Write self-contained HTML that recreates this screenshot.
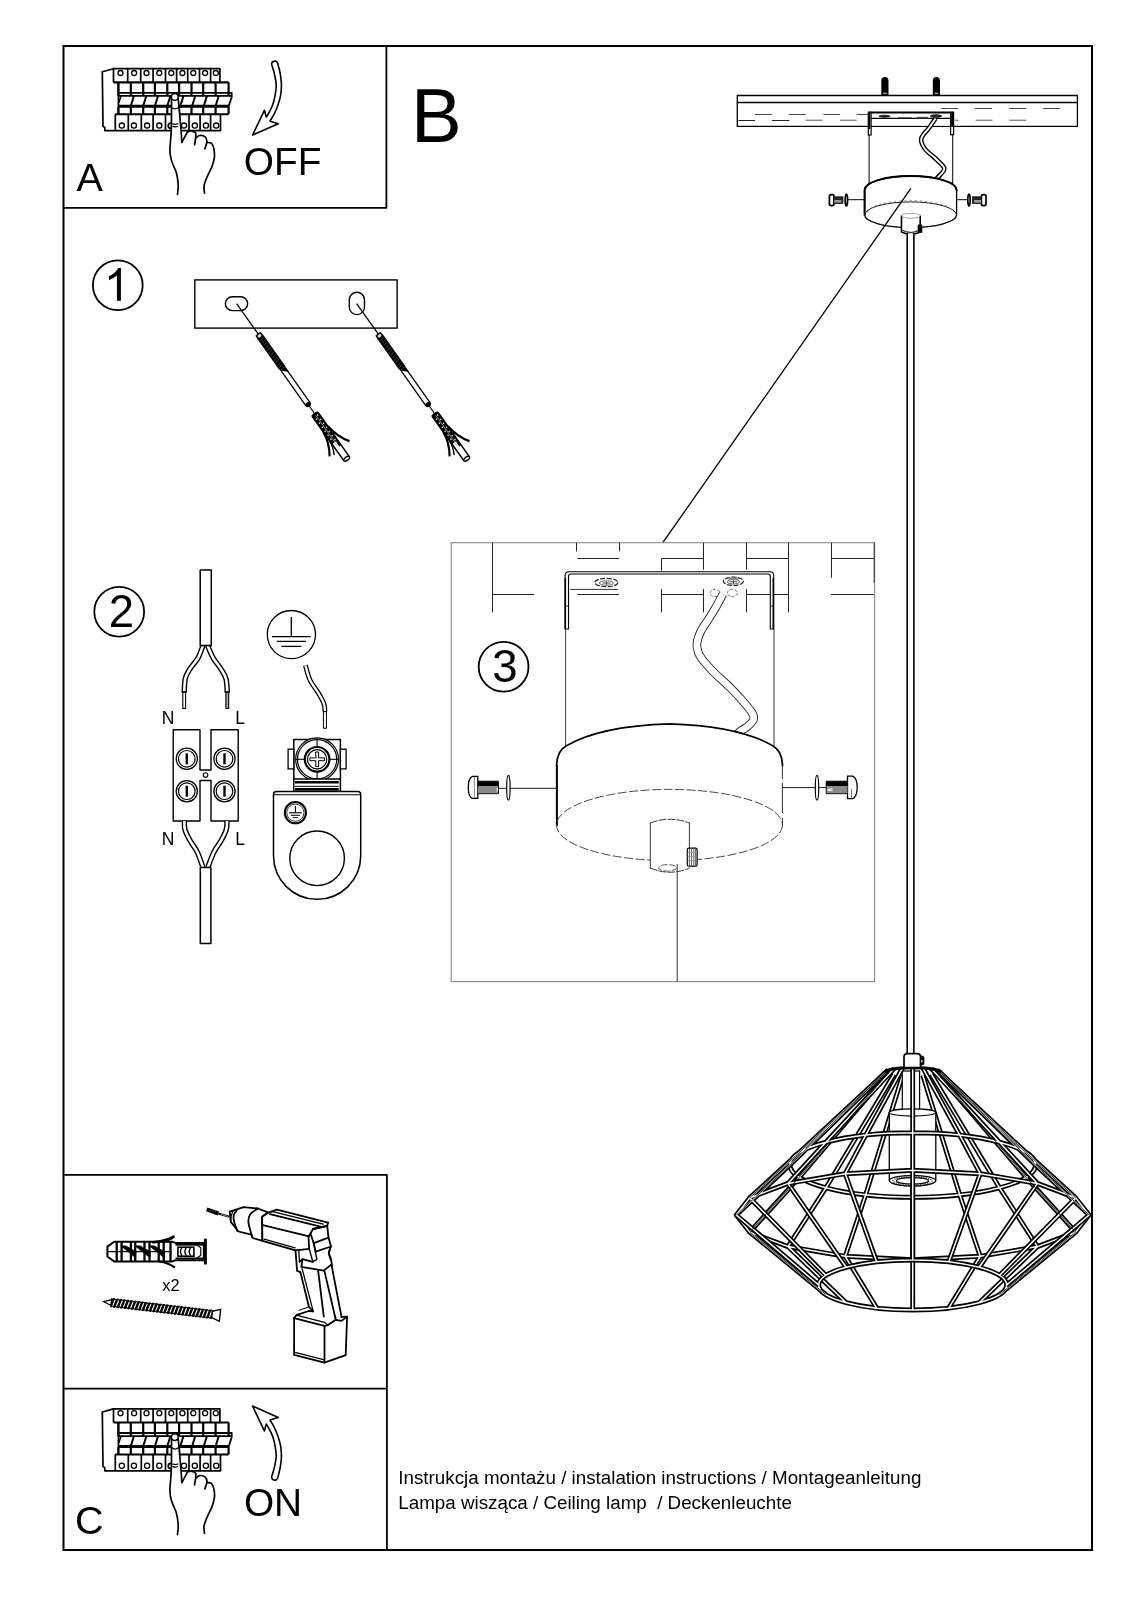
<!DOCTYPE html>
<html><head><meta charset="utf-8"><title>Instrukcja montazu</title>
<style>
html,body{margin:0;padding:0;background:#fff;}
body{width:1131px;height:1600px;overflow:hidden;font-family:"Liberation Sans",sans-serif;}
svg{display:block;font-family:"Liberation Sans",sans-serif;will-change:transform;}
svg text{fill:#000;}
</style></head><body>
<svg width="1131" height="1600" viewBox="0 0 1131 1600">
<rect x="0" y="0" width="1131" height="1600" fill="#fff"/>
<!-- frame -->
<rect x="63.5" y="46" width="1028.5" height="1504" fill="none" stroke="#000" stroke-width="2"/>
<path d="M63.5,207.8 H386.4 V46" fill="none" stroke="#000" stroke-width="1.8" stroke-linejoin="round" stroke-linecap="round" />
<path d="M63.5,1174.8 H386.9 V1550" fill="none" stroke="#000" stroke-width="1.8" stroke-linejoin="round" stroke-linecap="round" />
<line x1="63.5" y1="1388.7" x2="386.9" y2="1388.7" stroke="#000" stroke-width="1.8" />
<text x="76.6" y="191.0" font-size="39.5" text-anchor="start" >A</text>
<text x="243.8" y="174.8" font-size="38.8" text-anchor="start" >OFF</text>
<text x="411.0" y="142.0" font-size="76" text-anchor="start" >B</text>
<text x="75.0" y="1534.0" font-size="39.5" text-anchor="start" >C</text>
<text x="243.9" y="1516.0" font-size="38.8" text-anchor="start" >ON</text>
<text x="398.3" y="1484.0" font-size="18.8" text-anchor="start" >Instrukcja montażu / instalation instructions / Montageanleitung</text>
<text x="398.3" y="1508.6" font-size="18.8" text-anchor="start" >Lampa wisząca / Ceiling lamp&#160; / Deckenleuchte</text>
<circle cx="117.8" cy="285.2" r="24.9" fill="none" stroke="#000" stroke-width="1.8"/>
<path transform="translate(103.95,300.8) scale(0.02222,-0.02222)" d="M763 0H583V1147Q518 1085 412.5 1023Q307 961 223 930V1104Q374 1175 487 1276Q600 1377 647 1472H763Z" fill="#000"/>
<circle cx="119.2" cy="611.8" r="24.9" fill="none" stroke="#000" stroke-width="1.8"/>
<text x="121.4" y="627.1" font-size="45.5" text-anchor="middle" >2</text>
<circle cx="503.6" cy="666.8" r="24.9" fill="none" stroke="#000" stroke-width="1.8"/>
<text x="505.0" y="682.4" font-size="45.5" text-anchor="middle" >3</text>
<g>
<path d="M113.5,68.7 L102.3,71.8 L103.0,126.2 L104.8,127.5 L104.8,130.6 L220.5,130.6" fill="none" stroke="#000" stroke-width="1.7" stroke-linejoin="round" stroke-linecap="round" />
<path d="M113.5,68.7 L219.9,68.7 L219.9,82.3" fill="none" stroke="#000" stroke-width="1.7" stroke-linejoin="round" stroke-linecap="round" />
<line x1="113.5" y1="82.3" x2="228.6" y2="82.3" stroke="#000" stroke-width="2.2" />
<line x1="113.5" y1="68.7" x2="113.5" y2="82.3" stroke="#000" stroke-width="1.7" />
<line x1="127.7" y1="68.7" x2="127.7" y2="82.3" stroke="#000" stroke-width="1.7" />
<line x1="140.7" y1="68.7" x2="140.7" y2="82.3" stroke="#000" stroke-width="1.7" />
<line x1="153.1" y1="68.7" x2="153.1" y2="82.3" stroke="#000" stroke-width="1.7" />
<line x1="165.5" y1="68.7" x2="165.5" y2="82.3" stroke="#000" stroke-width="1.7" />
<line x1="176.6" y1="68.7" x2="176.6" y2="82.3" stroke="#000" stroke-width="1.7" />
<line x1="187.7" y1="68.7" x2="187.7" y2="82.3" stroke="#000" stroke-width="1.7" />
<line x1="199.5" y1="68.7" x2="199.5" y2="82.3" stroke="#000" stroke-width="1.7" />
<line x1="210.6" y1="68.7" x2="210.6" y2="82.3" stroke="#000" stroke-width="1.7" />
<circle cx="120.5" cy="73.0" r="2.5" fill="none" stroke="#000" stroke-width="1.3"/>
<circle cx="134.1" cy="73.0" r="2.5" fill="none" stroke="#000" stroke-width="1.3"/>
<circle cx="146.5" cy="73.0" r="2.5" fill="none" stroke="#000" stroke-width="1.3"/>
<circle cx="159.3" cy="73.0" r="2.5" fill="none" stroke="#000" stroke-width="1.3"/>
<circle cx="171.3" cy="73.0" r="2.5" fill="none" stroke="#000" stroke-width="1.3"/>
<circle cx="182.4" cy="73.0" r="2.5" fill="none" stroke="#000" stroke-width="1.3"/>
<circle cx="193.3" cy="73.0" r="2.5" fill="none" stroke="#000" stroke-width="1.3"/>
<circle cx="205.1" cy="73.0" r="2.5" fill="none" stroke="#000" stroke-width="1.3"/>
<circle cx="215.8" cy="73.0" r="2.5" fill="none" stroke="#000" stroke-width="1.3"/>
<line x1="118.4" y1="82.3" x2="118.4" y2="95.9" stroke="#000" stroke-width="2.2" />
<line x1="130.8" y1="82.3" x2="130.8" y2="95.9" stroke="#000" stroke-width="2.2" />
<line x1="143.2" y1="82.3" x2="143.2" y2="95.9" stroke="#000" stroke-width="2.2" />
<line x1="154.9" y1="82.3" x2="154.9" y2="95.9" stroke="#000" stroke-width="2.2" />
<line x1="167.3" y1="82.3" x2="167.3" y2="95.9" stroke="#000" stroke-width="2.2" />
<line x1="179.1" y1="82.3" x2="179.1" y2="95.9" stroke="#000" stroke-width="2.2" />
<line x1="191.5" y1="82.3" x2="191.5" y2="95.9" stroke="#000" stroke-width="2.2" />
<line x1="203.2" y1="82.3" x2="203.2" y2="95.9" stroke="#000" stroke-width="2.2" />
<line x1="215.6" y1="82.3" x2="215.6" y2="95.9" stroke="#000" stroke-width="2.2" />
<line x1="228.6" y1="82.3" x2="228.6" y2="95.9" stroke="#000" stroke-width="2.2" />
<path d="M118.4,92.8 L231.7,92.8 L231.7,97.1 L228.6,106.4" fill="none" stroke="#000" stroke-width="1.8" stroke-linejoin="round" stroke-linecap="round" />
<line x1="118.4" y1="95.9" x2="231.1" y2="95.9" stroke="#000" stroke-width="1.6" />
<line x1="118.4" y1="106.3" x2="229.0" y2="106.3" stroke="#000" stroke-width="3" />
<line x1="118.4" y1="82.3" x2="118.4" y2="114.5" stroke="#000" stroke-width="1.7" />
<line x1="133.9" y1="96.1" x2="130.8" y2="106.0" stroke="#000" stroke-width="2.0" />
<line x1="146.3" y1="96.1" x2="143.2" y2="106.0" stroke="#000" stroke-width="2.0" />
<line x1="158.0" y1="96.1" x2="154.9" y2="106.0" stroke="#000" stroke-width="2.0" />
<line x1="170.4" y1="96.1" x2="167.3" y2="106.0" stroke="#000" stroke-width="2.0" />
<line x1="183.4" y1="96.1" x2="180.3" y2="106.0" stroke="#000" stroke-width="2.0" />
<line x1="195.2" y1="96.1" x2="192.1" y2="106.0" stroke="#000" stroke-width="2.0" />
<line x1="206.9" y1="96.1" x2="203.8" y2="106.0" stroke="#000" stroke-width="2.0" />
<line x1="218.7" y1="96.1" x2="215.6" y2="106.0" stroke="#000" stroke-width="2.0" />
<line x1="120.9" y1="96.1" x2="118.8" y2="102.7" stroke="#000" stroke-width="1.6" />
<line x1="118.4" y1="107.0" x2="118.4" y2="114.2" stroke="#000" stroke-width="2.2" />
<line x1="130.8" y1="107.0" x2="130.8" y2="114.2" stroke="#000" stroke-width="2.2" />
<line x1="143.2" y1="107.0" x2="143.2" y2="114.2" stroke="#000" stroke-width="2.2" />
<line x1="154.9" y1="107.0" x2="154.9" y2="114.2" stroke="#000" stroke-width="2.2" />
<line x1="167.3" y1="107.0" x2="167.3" y2="114.2" stroke="#000" stroke-width="2.2" />
<line x1="179.1" y1="107.0" x2="179.1" y2="114.2" stroke="#000" stroke-width="2.2" />
<line x1="191.5" y1="107.0" x2="191.5" y2="114.2" stroke="#000" stroke-width="2.2" />
<line x1="203.2" y1="107.0" x2="203.2" y2="114.2" stroke="#000" stroke-width="2.2" />
<line x1="215.6" y1="107.0" x2="215.6" y2="114.2" stroke="#000" stroke-width="2.2" />
<line x1="228.6" y1="107.0" x2="228.6" y2="114.2" stroke="#000" stroke-width="2.2" />
<line x1="115.3" y1="114.2" x2="228.6" y2="114.2" stroke="#000" stroke-width="2.0" />
<line x1="115.3" y1="114.2" x2="115.3" y2="130.6" stroke="#000" stroke-width="1.7" />
<line x1="128.3" y1="114.2" x2="128.3" y2="130.6" stroke="#000" stroke-width="1.7" />
<line x1="141.3" y1="114.2" x2="141.3" y2="130.6" stroke="#000" stroke-width="1.7" />
<line x1="153.1" y1="114.2" x2="153.1" y2="130.6" stroke="#000" stroke-width="1.7" />
<line x1="165.5" y1="114.2" x2="165.5" y2="130.6" stroke="#000" stroke-width="1.7" />
<line x1="189.0" y1="114.2" x2="189.0" y2="130.6" stroke="#000" stroke-width="1.7" />
<line x1="200.1" y1="114.2" x2="200.1" y2="130.6" stroke="#000" stroke-width="1.7" />
<line x1="210.6" y1="114.2" x2="210.6" y2="130.6" stroke="#000" stroke-width="1.7" />
<line x1="220.5" y1="114.2" x2="220.5" y2="130.6" stroke="#000" stroke-width="1.7" />
<circle cx="121.8" cy="125.6" r="2.6" fill="none" stroke="#000" stroke-width="1.3"/>
<circle cx="133.9" cy="125.6" r="2.6" fill="none" stroke="#000" stroke-width="1.3"/>
<circle cx="147.1" cy="125.6" r="2.6" fill="none" stroke="#000" stroke-width="1.3"/>
<circle cx="159.3" cy="125.6" r="2.6" fill="none" stroke="#000" stroke-width="1.3"/>
<circle cx="184.0" cy="125.6" r="2.6" fill="none" stroke="#000" stroke-width="1.3"/>
<circle cx="194.8" cy="125.6" r="2.6" fill="none" stroke="#000" stroke-width="1.3"/>
<circle cx="205.9" cy="125.6" r="2.6" fill="none" stroke="#000" stroke-width="1.3"/>
<circle cx="216.2" cy="125.6" r="2.6" fill="none" stroke="#000" stroke-width="1.3"/>
<path d="M171.5,98.5 L171.3,129.6 L169.9,150.3 L171.5,160.6 L176.3,172.5 L178.2,184.5 L177.5,194.4 L204.5,193.2 L204.1,185.3 L207.3,176.5 L212.1,166.2 L214.5,156.6 L213.7,147.9 L211.3,143.1 L206.9,142.3 L204.9,136.7 L199.3,135.5 L196.2,133.5 L191.4,131.2 L187.4,131.9 L181.8,142.3 L181.0,129.6 L178.2,98.5 Z" fill="#fff" stroke="none" stroke-width="0" stroke-linejoin="round" stroke-linecap="round" />
<path d="M171.5,98.5 C171.5,103.7 171.6,120.9 171.3,129.6 C171.1,138.2 169.9,145.1 169.9,150.3 C169.9,155.4 170.4,156.9 171.5,160.6 C172.5,164.3 175.1,168.6 176.3,172.5 C177.4,176.5 178.0,180.8 178.2,184.5 C178.4,188.1 177.6,192.8 177.5,194.4" fill="none" stroke="#000" stroke-width="1.7" stroke-linejoin="round" stroke-linecap="round" />
<path d="M178.2,98.5 C178.7,103.7 180.4,122.3 181.0,129.6 C181.6,136.9 181.7,140.2 181.8,142.3" fill="none" stroke="#000" stroke-width="1.7" stroke-linejoin="round" stroke-linecap="round" />
<path d="M181.8,142.3 C182.8,140.6 186.5,133.7 187.4,131.9" fill="none" stroke="#000" stroke-width="1.7" stroke-linejoin="round" stroke-linecap="round" />
<path d="M187.4,131.9 C188.1,131.8 190.0,130.7 191.4,131.0 C192.8,131.3 195.2,131.3 195.8,133.5 C196.3,135.8 194.8,142.8 194.6,144.7" fill="none" stroke="#000" stroke-width="1.7" stroke-linejoin="round" stroke-linecap="round" />
<path d="M196.6,137.5 C197.1,137.2 198.3,135.5 199.7,135.4 C201.1,135.2 203.7,135.7 204.9,136.7 C206.1,137.7 206.9,139.5 206.9,141.5 C206.9,143.5 205.2,147.5 204.9,148.7" fill="none" stroke="#000" stroke-width="1.7" stroke-linejoin="round" stroke-linecap="round" />
<path d="M206.9,142.5 C207.6,142.6 210.1,142.2 211.3,143.1 C212.4,144.0 213.1,145.6 213.7,147.9 C214.2,150.1 214.7,153.6 214.5,156.6 C214.2,159.7 213.3,162.8 212.1,166.2 C210.9,169.5 208.6,173.3 207.3,176.5 C206.0,179.7 204.6,182.5 204.1,185.3 C203.6,188.0 204.4,191.9 204.5,193.2" fill="none" stroke="#000" stroke-width="1.7" stroke-linejoin="round" stroke-linecap="round" />
<circle cx="174.8" cy="96.9" r="3.4" fill="#fff" stroke="#000" stroke-width="1.5"/>
<path d="M171.9,107.7 C172.4,107.9 174.0,108.9 175.1,108.9 C176.1,108.9 177.7,107.9 178.2,107.7" fill="none" stroke="#000" stroke-width="1.3" stroke-linejoin="round" stroke-linecap="round" />
<path d="M172.7,123.8 C173.1,123.9 174.4,124.3 175.3,124.3 C176.2,124.3 177.4,123.9 177.9,123.8" fill="none" stroke="#000" stroke-width="1.2" stroke-linejoin="round" stroke-linecap="round" />
<path d="M173.1,126.4 C173.4,126.5 174.6,126.9 175.3,126.9 C176.0,126.9 177.1,126.5 177.5,126.4" fill="none" stroke="#000" stroke-width="1.2" stroke-linejoin="round" stroke-linecap="round" />
<path d="M170.8,123.2 A2.6,2.6 0 0,0 170.8,128.4" fill="none" stroke="#000" stroke-width="1.7" stroke-linejoin="round" stroke-linecap="round" />
</g>
<g transform="translate(0,1340.2)">
<path d="M113.5,68.7 L102.3,71.8 L103.0,126.2 L104.8,127.5 L104.8,130.6 L220.5,130.6" fill="none" stroke="#000" stroke-width="1.7" stroke-linejoin="round" stroke-linecap="round" />
<path d="M113.5,68.7 L219.9,68.7 L219.9,82.3" fill="none" stroke="#000" stroke-width="1.7" stroke-linejoin="round" stroke-linecap="round" />
<line x1="113.5" y1="82.3" x2="228.6" y2="82.3" stroke="#000" stroke-width="2.2" />
<line x1="113.5" y1="68.7" x2="113.5" y2="82.3" stroke="#000" stroke-width="1.7" />
<line x1="127.7" y1="68.7" x2="127.7" y2="82.3" stroke="#000" stroke-width="1.7" />
<line x1="140.7" y1="68.7" x2="140.7" y2="82.3" stroke="#000" stroke-width="1.7" />
<line x1="153.1" y1="68.7" x2="153.1" y2="82.3" stroke="#000" stroke-width="1.7" />
<line x1="165.5" y1="68.7" x2="165.5" y2="82.3" stroke="#000" stroke-width="1.7" />
<line x1="176.6" y1="68.7" x2="176.6" y2="82.3" stroke="#000" stroke-width="1.7" />
<line x1="187.7" y1="68.7" x2="187.7" y2="82.3" stroke="#000" stroke-width="1.7" />
<line x1="199.5" y1="68.7" x2="199.5" y2="82.3" stroke="#000" stroke-width="1.7" />
<line x1="210.6" y1="68.7" x2="210.6" y2="82.3" stroke="#000" stroke-width="1.7" />
<circle cx="120.5" cy="73.0" r="2.5" fill="none" stroke="#000" stroke-width="1.3"/>
<circle cx="134.1" cy="73.0" r="2.5" fill="none" stroke="#000" stroke-width="1.3"/>
<circle cx="146.5" cy="73.0" r="2.5" fill="none" stroke="#000" stroke-width="1.3"/>
<circle cx="159.3" cy="73.0" r="2.5" fill="none" stroke="#000" stroke-width="1.3"/>
<circle cx="171.3" cy="73.0" r="2.5" fill="none" stroke="#000" stroke-width="1.3"/>
<circle cx="182.4" cy="73.0" r="2.5" fill="none" stroke="#000" stroke-width="1.3"/>
<circle cx="193.3" cy="73.0" r="2.5" fill="none" stroke="#000" stroke-width="1.3"/>
<circle cx="205.1" cy="73.0" r="2.5" fill="none" stroke="#000" stroke-width="1.3"/>
<circle cx="215.8" cy="73.0" r="2.5" fill="none" stroke="#000" stroke-width="1.3"/>
<line x1="118.4" y1="82.3" x2="118.4" y2="95.9" stroke="#000" stroke-width="2.2" />
<line x1="130.8" y1="82.3" x2="130.8" y2="95.9" stroke="#000" stroke-width="2.2" />
<line x1="143.2" y1="82.3" x2="143.2" y2="95.9" stroke="#000" stroke-width="2.2" />
<line x1="154.9" y1="82.3" x2="154.9" y2="95.9" stroke="#000" stroke-width="2.2" />
<line x1="167.3" y1="82.3" x2="167.3" y2="95.9" stroke="#000" stroke-width="2.2" />
<line x1="179.1" y1="82.3" x2="179.1" y2="95.9" stroke="#000" stroke-width="2.2" />
<line x1="191.5" y1="82.3" x2="191.5" y2="95.9" stroke="#000" stroke-width="2.2" />
<line x1="203.2" y1="82.3" x2="203.2" y2="95.9" stroke="#000" stroke-width="2.2" />
<line x1="215.6" y1="82.3" x2="215.6" y2="95.9" stroke="#000" stroke-width="2.2" />
<line x1="228.6" y1="82.3" x2="228.6" y2="95.9" stroke="#000" stroke-width="2.2" />
<path d="M118.4,92.8 L231.7,92.8 L231.7,97.1 L228.6,106.4" fill="none" stroke="#000" stroke-width="1.8" stroke-linejoin="round" stroke-linecap="round" />
<line x1="118.4" y1="95.9" x2="231.1" y2="95.9" stroke="#000" stroke-width="1.6" />
<line x1="118.4" y1="106.3" x2="229.0" y2="106.3" stroke="#000" stroke-width="3" />
<line x1="118.4" y1="82.3" x2="118.4" y2="114.5" stroke="#000" stroke-width="1.7" />
<line x1="133.9" y1="96.1" x2="130.8" y2="106.0" stroke="#000" stroke-width="2.0" />
<line x1="146.3" y1="96.1" x2="143.2" y2="106.0" stroke="#000" stroke-width="2.0" />
<line x1="158.0" y1="96.1" x2="154.9" y2="106.0" stroke="#000" stroke-width="2.0" />
<line x1="170.4" y1="96.1" x2="167.3" y2="106.0" stroke="#000" stroke-width="2.0" />
<line x1="183.4" y1="96.1" x2="180.3" y2="106.0" stroke="#000" stroke-width="2.0" />
<line x1="195.2" y1="96.1" x2="192.1" y2="106.0" stroke="#000" stroke-width="2.0" />
<line x1="206.9" y1="96.1" x2="203.8" y2="106.0" stroke="#000" stroke-width="2.0" />
<line x1="218.7" y1="96.1" x2="215.6" y2="106.0" stroke="#000" stroke-width="2.0" />
<line x1="120.9" y1="96.1" x2="118.8" y2="102.7" stroke="#000" stroke-width="1.6" />
<line x1="118.4" y1="107.0" x2="118.4" y2="114.2" stroke="#000" stroke-width="2.2" />
<line x1="130.8" y1="107.0" x2="130.8" y2="114.2" stroke="#000" stroke-width="2.2" />
<line x1="143.2" y1="107.0" x2="143.2" y2="114.2" stroke="#000" stroke-width="2.2" />
<line x1="154.9" y1="107.0" x2="154.9" y2="114.2" stroke="#000" stroke-width="2.2" />
<line x1="167.3" y1="107.0" x2="167.3" y2="114.2" stroke="#000" stroke-width="2.2" />
<line x1="179.1" y1="107.0" x2="179.1" y2="114.2" stroke="#000" stroke-width="2.2" />
<line x1="191.5" y1="107.0" x2="191.5" y2="114.2" stroke="#000" stroke-width="2.2" />
<line x1="203.2" y1="107.0" x2="203.2" y2="114.2" stroke="#000" stroke-width="2.2" />
<line x1="215.6" y1="107.0" x2="215.6" y2="114.2" stroke="#000" stroke-width="2.2" />
<line x1="228.6" y1="107.0" x2="228.6" y2="114.2" stroke="#000" stroke-width="2.2" />
<line x1="115.3" y1="114.2" x2="228.6" y2="114.2" stroke="#000" stroke-width="2.0" />
<line x1="115.3" y1="114.2" x2="115.3" y2="130.6" stroke="#000" stroke-width="1.7" />
<line x1="128.3" y1="114.2" x2="128.3" y2="130.6" stroke="#000" stroke-width="1.7" />
<line x1="141.3" y1="114.2" x2="141.3" y2="130.6" stroke="#000" stroke-width="1.7" />
<line x1="153.1" y1="114.2" x2="153.1" y2="130.6" stroke="#000" stroke-width="1.7" />
<line x1="165.5" y1="114.2" x2="165.5" y2="130.6" stroke="#000" stroke-width="1.7" />
<line x1="189.0" y1="114.2" x2="189.0" y2="130.6" stroke="#000" stroke-width="1.7" />
<line x1="200.1" y1="114.2" x2="200.1" y2="130.6" stroke="#000" stroke-width="1.7" />
<line x1="210.6" y1="114.2" x2="210.6" y2="130.6" stroke="#000" stroke-width="1.7" />
<line x1="220.5" y1="114.2" x2="220.5" y2="130.6" stroke="#000" stroke-width="1.7" />
<circle cx="121.8" cy="125.6" r="2.6" fill="none" stroke="#000" stroke-width="1.3"/>
<circle cx="133.9" cy="125.6" r="2.6" fill="none" stroke="#000" stroke-width="1.3"/>
<circle cx="147.1" cy="125.6" r="2.6" fill="none" stroke="#000" stroke-width="1.3"/>
<circle cx="159.3" cy="125.6" r="2.6" fill="none" stroke="#000" stroke-width="1.3"/>
<circle cx="184.0" cy="125.6" r="2.6" fill="none" stroke="#000" stroke-width="1.3"/>
<circle cx="194.8" cy="125.6" r="2.6" fill="none" stroke="#000" stroke-width="1.3"/>
<circle cx="205.9" cy="125.6" r="2.6" fill="none" stroke="#000" stroke-width="1.3"/>
<circle cx="216.2" cy="125.6" r="2.6" fill="none" stroke="#000" stroke-width="1.3"/>
<path d="M171.5,98.5 L171.3,129.6 L169.9,150.3 L171.5,160.6 L176.3,172.5 L178.2,184.5 L177.5,194.4 L204.5,193.2 L204.1,185.3 L207.3,176.5 L212.1,166.2 L214.5,156.6 L213.7,147.9 L211.3,143.1 L206.9,142.3 L204.9,136.7 L199.3,135.5 L196.2,133.5 L191.4,131.2 L187.4,131.9 L181.8,142.3 L181.0,129.6 L178.2,98.5 Z" fill="#fff" stroke="none" stroke-width="0" stroke-linejoin="round" stroke-linecap="round" />
<path d="M171.5,98.5 C171.5,103.7 171.6,120.9 171.3,129.6 C171.1,138.2 169.9,145.1 169.9,150.3 C169.9,155.4 170.4,156.9 171.5,160.6 C172.5,164.3 175.1,168.6 176.3,172.5 C177.4,176.5 178.0,180.8 178.2,184.5 C178.4,188.1 177.6,192.8 177.5,194.4" fill="none" stroke="#000" stroke-width="1.7" stroke-linejoin="round" stroke-linecap="round" />
<path d="M178.2,98.5 C178.7,103.7 180.4,122.3 181.0,129.6 C181.6,136.9 181.7,140.2 181.8,142.3" fill="none" stroke="#000" stroke-width="1.7" stroke-linejoin="round" stroke-linecap="round" />
<path d="M181.8,142.3 C182.8,140.6 186.5,133.7 187.4,131.9" fill="none" stroke="#000" stroke-width="1.7" stroke-linejoin="round" stroke-linecap="round" />
<path d="M187.4,131.9 C188.1,131.8 190.0,130.7 191.4,131.0 C192.8,131.3 195.2,131.3 195.8,133.5 C196.3,135.8 194.8,142.8 194.6,144.7" fill="none" stroke="#000" stroke-width="1.7" stroke-linejoin="round" stroke-linecap="round" />
<path d="M196.6,137.5 C197.1,137.2 198.3,135.5 199.7,135.4 C201.1,135.2 203.7,135.7 204.9,136.7 C206.1,137.7 206.9,139.5 206.9,141.5 C206.9,143.5 205.2,147.5 204.9,148.7" fill="none" stroke="#000" stroke-width="1.7" stroke-linejoin="round" stroke-linecap="round" />
<path d="M206.9,142.5 C207.6,142.6 210.1,142.2 211.3,143.1 C212.4,144.0 213.1,145.6 213.7,147.9 C214.2,150.1 214.7,153.6 214.5,156.6 C214.2,159.7 213.3,162.8 212.1,166.2 C210.9,169.5 208.6,173.3 207.3,176.5 C206.0,179.7 204.6,182.5 204.1,185.3 C203.6,188.0 204.4,191.9 204.5,193.2" fill="none" stroke="#000" stroke-width="1.7" stroke-linejoin="round" stroke-linecap="round" />
<circle cx="174.8" cy="96.9" r="3.4" fill="#fff" stroke="#000" stroke-width="1.5"/>
<path d="M171.9,107.7 C172.4,107.9 174.0,108.9 175.1,108.9 C176.1,108.9 177.7,107.9 178.2,107.7" fill="none" stroke="#000" stroke-width="1.3" stroke-linejoin="round" stroke-linecap="round" />
<path d="M172.7,123.8 C173.1,123.9 174.4,124.3 175.3,124.3 C176.2,124.3 177.4,123.9 177.9,123.8" fill="none" stroke="#000" stroke-width="1.2" stroke-linejoin="round" stroke-linecap="round" />
<path d="M173.1,126.4 C173.4,126.5 174.6,126.9 175.3,126.9 C176.0,126.9 177.1,126.5 177.5,126.4" fill="none" stroke="#000" stroke-width="1.2" stroke-linejoin="round" stroke-linecap="round" />
<path d="M170.8,123.2 A2.6,2.6 0 0,0 170.8,128.4" fill="none" stroke="#000" stroke-width="1.7" stroke-linejoin="round" stroke-linecap="round" />
</g>
<path d="M271.8,64.9 C272.3,66.5 273.9,71.5 274.6,74.8 C275.3,78.1 276.1,81.4 276.2,84.7 C276.3,88.0 275.8,91.3 275.2,94.6 C274.7,97.9 273.7,101.7 272.8,104.5 C271.8,107.3 270.7,109.2 269.7,111.3 C268.6,113.4 266.8,116.2 266.3,117.2 L264.4,110.3 L252.6,135.1 L278.3,123.7 L270.0,121.2L270.0,121.2 C270.6,120.0 272.7,116.9 274.0,114.4 C275.3,111.8 276.6,108.8 277.7,105.7 C278.8,102.6 279.9,99.3 280.5,95.8 C281.1,92.3 281.5,88.4 281.4,84.7 C281.4,80.9 280.8,77.1 280.2,73.5 C279.6,70.0 278.1,65.0 277.7,63.3 A2.9,2.9 0 0,0 271.8,64.9 Z" fill="#fff" stroke="#000" stroke-width="1.6" stroke-linejoin="round" stroke-linecap="round" />
<path d="M271.8,1476.3 C272.3,1474.7 273.9,1469.7 274.6,1466.4 C275.3,1463.1 276.1,1459.8 276.2,1456.5 C276.3,1453.2 275.8,1449.9 275.2,1446.6 C274.7,1443.3 273.7,1439.5 272.8,1436.7 C271.8,1433.9 270.7,1432.0 269.7,1429.9 C268.6,1427.8 266.8,1425.0 266.3,1424.0 L264.4,1430.9 L252.6,1406.1 L278.3,1417.5 L270.0,1420.0L270.0,1420.0 C270.6,1421.2 272.7,1424.3 274.0,1426.8 C275.3,1429.4 276.6,1432.4 277.7,1435.5 C278.8,1438.6 279.9,1441.9 280.5,1445.4 C281.1,1448.9 281.5,1452.8 281.4,1456.5 C281.4,1460.3 280.8,1464.1 280.2,1467.7 C279.6,1471.2 278.1,1476.2 277.7,1477.9 A2.9,2.9 0 0,1 271.8,1476.3 Z" fill="#fff" stroke="#000" stroke-width="1.6" stroke-linejoin="round" stroke-linecap="round" />
<!-- step1 -->
<rect x="194.8" y="279.9" width="202.3" height="48.2" fill="none" stroke="#000" stroke-width="1.4"/>
<rect x="225.4" y="296.7" width="22.2" height="13.9" rx="6.9" fill="none" stroke="#000" stroke-width="1.4"/>
<rect x="349.3" y="292.3" width="15.2" height="22.3" rx="7.6" fill="none" stroke="#000" stroke-width="1.4"/>
<g transform="translate(258.0,333.7) rotate(54.67)">
<line x1="-37.0" y1="0.0" x2="0.0" y2="0.0" stroke="#000" stroke-width="1.3" />
<rect x="0" y="-3.2" width="43.5" height="6.4" rx="2" fill="#000" stroke="#000" stroke-width="0.8"/>
<ellipse cx="2.6" cy="0" rx="1.5" ry="2" fill="#ddd"/>
<line x1="6" y1="-2.4" x2="7.2" y2="2.4" stroke="#777" stroke-width="0.5"/>
<line x1="9" y1="-2.4" x2="10.2" y2="2.4" stroke="#777" stroke-width="0.5"/>
<line x1="12" y1="-2.4" x2="13.2" y2="2.4" stroke="#777" stroke-width="0.5"/>
<line x1="15" y1="-2.4" x2="16.2" y2="2.4" stroke="#777" stroke-width="0.5"/>
<line x1="18" y1="-2.4" x2="19.2" y2="2.4" stroke="#777" stroke-width="0.5"/>
<line x1="21" y1="-2.4" x2="22.2" y2="2.4" stroke="#777" stroke-width="0.5"/>
<line x1="24" y1="-2.4" x2="25.2" y2="2.4" stroke="#777" stroke-width="0.5"/>
<line x1="27" y1="-2.4" x2="28.2" y2="2.4" stroke="#777" stroke-width="0.5"/>
<line x1="30" y1="-2.4" x2="31.2" y2="2.4" stroke="#777" stroke-width="0.5"/>
<line x1="33" y1="-2.4" x2="34.2" y2="2.4" stroke="#777" stroke-width="0.5"/>
<line x1="36" y1="-2.4" x2="37.2" y2="2.4" stroke="#777" stroke-width="0.5"/>
<line x1="39" y1="-2.4" x2="40.2" y2="2.4" stroke="#777" stroke-width="0.5"/>
<line x1="42" y1="-2.4" x2="43.2" y2="2.4" stroke="#777" stroke-width="0.5"/>
<path d="M43.5,-2.6 H86 Q88.5,-2.6 88.5,0 Q88.5,2.6 86,2.6 H43.5" fill="#fff" stroke="#000" stroke-width="1.3"/>
<path d="M43,-3 L49,-3 L43,3 Z" fill="#000"/>
<rect x="84.5" y="-2.6" width="4" height="5.2" rx="1.5" fill="#000"/>
<line x1="88.5" y1="0.0" x2="97.0" y2="0.0" stroke="#000" stroke-width="1.0" />
<path d="M99,-3.6 Q96.5,0 99,3.6 L153,3.4 L153,-3.4 Z" fill="#fff" stroke="#000" stroke-width="1.5"/>
<path d="M97.5,-3.6 H133 V3.6 H97.5 Z" fill="#000"/>
<circle cx="101" cy="-1.6" r="0.8" fill="#ddd"/><circle cx="103.5" cy="1.6" r="0.8" fill="#ddd"/>
<circle cx="106" cy="-1.6" r="0.8" fill="#ddd"/><circle cx="108.5" cy="1.6" r="0.8" fill="#ddd"/>
<circle cx="111" cy="-1.6" r="0.8" fill="#ddd"/><circle cx="113.5" cy="1.6" r="0.8" fill="#ddd"/>
<circle cx="116" cy="-1.6" r="0.8" fill="#ddd"/><circle cx="118.5" cy="1.6" r="0.8" fill="#ddd"/>
<circle cx="121" cy="-1.6" r="0.8" fill="#ddd"/><circle cx="123.5" cy="1.6" r="0.8" fill="#ddd"/>
<circle cx="126" cy="-1.6" r="0.8" fill="#ddd"/><circle cx="128.5" cy="1.6" r="0.8" fill="#ddd"/>
<circle cx="131" cy="-1.6" r="0.8" fill="#ddd"/><circle cx="133.5" cy="1.6" r="0.8" fill="#ddd"/>
<line x1="100.0" y1="0.0" x2="138.0" y2="0.0" stroke="#bbb" stroke-width="0.7" />
<path d="M116,-3.6 Q130,-5 140.5,-12.5" fill="none" stroke="#000" stroke-width="2.2"/>
<path d="M118,3.6 Q130,4.5 141.5,12.5" fill="none" stroke="#000" stroke-width="2.2"/>
<path d="M128,3.4 Q136,4 143,8" fill="none" stroke="#000" stroke-width="1.4"/>
<rect x="133" y="-3.4" width="6" height="2.2" fill="#000"/>
<ellipse cx="153.3" cy="0" rx="1.7" ry="3.4" fill="#fff" stroke="#000" stroke-width="1.3"/>
</g>
<g transform="translate(378.0,333.7) rotate(54.67)">
<line x1="-37.0" y1="0.0" x2="0.0" y2="0.0" stroke="#000" stroke-width="1.3" />
<rect x="0" y="-3.2" width="43.5" height="6.4" rx="2" fill="#000" stroke="#000" stroke-width="0.8"/>
<ellipse cx="2.6" cy="0" rx="1.5" ry="2" fill="#ddd"/>
<line x1="6" y1="-2.4" x2="7.2" y2="2.4" stroke="#777" stroke-width="0.5"/>
<line x1="9" y1="-2.4" x2="10.2" y2="2.4" stroke="#777" stroke-width="0.5"/>
<line x1="12" y1="-2.4" x2="13.2" y2="2.4" stroke="#777" stroke-width="0.5"/>
<line x1="15" y1="-2.4" x2="16.2" y2="2.4" stroke="#777" stroke-width="0.5"/>
<line x1="18" y1="-2.4" x2="19.2" y2="2.4" stroke="#777" stroke-width="0.5"/>
<line x1="21" y1="-2.4" x2="22.2" y2="2.4" stroke="#777" stroke-width="0.5"/>
<line x1="24" y1="-2.4" x2="25.2" y2="2.4" stroke="#777" stroke-width="0.5"/>
<line x1="27" y1="-2.4" x2="28.2" y2="2.4" stroke="#777" stroke-width="0.5"/>
<line x1="30" y1="-2.4" x2="31.2" y2="2.4" stroke="#777" stroke-width="0.5"/>
<line x1="33" y1="-2.4" x2="34.2" y2="2.4" stroke="#777" stroke-width="0.5"/>
<line x1="36" y1="-2.4" x2="37.2" y2="2.4" stroke="#777" stroke-width="0.5"/>
<line x1="39" y1="-2.4" x2="40.2" y2="2.4" stroke="#777" stroke-width="0.5"/>
<line x1="42" y1="-2.4" x2="43.2" y2="2.4" stroke="#777" stroke-width="0.5"/>
<path d="M43.5,-2.6 H86 Q88.5,-2.6 88.5,0 Q88.5,2.6 86,2.6 H43.5" fill="#fff" stroke="#000" stroke-width="1.3"/>
<path d="M43,-3 L49,-3 L43,3 Z" fill="#000"/>
<rect x="84.5" y="-2.6" width="4" height="5.2" rx="1.5" fill="#000"/>
<line x1="88.5" y1="0.0" x2="97.0" y2="0.0" stroke="#000" stroke-width="1.0" />
<path d="M99,-3.6 Q96.5,0 99,3.6 L153,3.4 L153,-3.4 Z" fill="#fff" stroke="#000" stroke-width="1.5"/>
<path d="M97.5,-3.6 H133 V3.6 H97.5 Z" fill="#000"/>
<circle cx="101" cy="-1.6" r="0.8" fill="#ddd"/><circle cx="103.5" cy="1.6" r="0.8" fill="#ddd"/>
<circle cx="106" cy="-1.6" r="0.8" fill="#ddd"/><circle cx="108.5" cy="1.6" r="0.8" fill="#ddd"/>
<circle cx="111" cy="-1.6" r="0.8" fill="#ddd"/><circle cx="113.5" cy="1.6" r="0.8" fill="#ddd"/>
<circle cx="116" cy="-1.6" r="0.8" fill="#ddd"/><circle cx="118.5" cy="1.6" r="0.8" fill="#ddd"/>
<circle cx="121" cy="-1.6" r="0.8" fill="#ddd"/><circle cx="123.5" cy="1.6" r="0.8" fill="#ddd"/>
<circle cx="126" cy="-1.6" r="0.8" fill="#ddd"/><circle cx="128.5" cy="1.6" r="0.8" fill="#ddd"/>
<circle cx="131" cy="-1.6" r="0.8" fill="#ddd"/><circle cx="133.5" cy="1.6" r="0.8" fill="#ddd"/>
<line x1="100.0" y1="0.0" x2="138.0" y2="0.0" stroke="#bbb" stroke-width="0.7" />
<path d="M116,-3.6 Q130,-5 140.5,-12.5" fill="none" stroke="#000" stroke-width="2.2"/>
<path d="M118,3.6 Q130,4.5 141.5,12.5" fill="none" stroke="#000" stroke-width="2.2"/>
<path d="M128,3.4 Q136,4 143,8" fill="none" stroke="#000" stroke-width="1.4"/>
<rect x="133" y="-3.4" width="6" height="2.2" fill="#000"/>
<ellipse cx="153.3" cy="0" rx="1.7" ry="3.4" fill="#fff" stroke="#000" stroke-width="1.3"/>
</g>
<!-- step2 -->
<path d="M200.2,645.6 V569.9 H211.3 V645.6" fill="none" stroke="#000" stroke-width="1.5" stroke-linejoin="round" stroke-linecap="round" />
<line x1="200.2" y1="645.6" x2="211.3" y2="645.6" stroke="#000" stroke-width="1.5" />
<path d="M203.0,645.6 C202.2,647.6 200.3,653.9 198.1,657.8 C195.9,661.7 191.9,665.6 189.8,669.1 C187.7,672.6 186.2,674.7 185.3,678.5 C184.4,682.3 184.4,689.8 184.2,692.0" fill="none" stroke="#000" stroke-width="5.4" stroke-linecap="butt"/>
<path d="M203.0,645.6 C202.2,647.6 200.3,653.9 198.1,657.8 C195.9,661.7 191.9,665.6 189.8,669.1 C187.7,672.6 186.2,674.7 185.3,678.5 C184.4,682.3 184.4,689.8 184.2,692.0" fill="none" stroke="#fff" stroke-width="2.6" stroke-linecap="butt"/>
<path d="M207.6,645.6 C208.5,647.6 210.9,653.9 213.1,657.8 C215.3,661.7 218.9,665.6 221.0,669.1 C223.1,672.6 224.8,674.7 225.9,678.5 C227.0,682.3 227.1,689.8 227.3,692.0" fill="none" stroke="#000" stroke-width="5.4" stroke-linecap="butt"/>
<path d="M207.6,645.6 C208.5,647.6 210.9,653.9 213.1,657.8 C215.3,661.7 218.9,665.6 221.0,669.1 C223.1,672.6 224.8,674.7 225.9,678.5 C227.0,682.3 227.1,689.8 227.3,692.0" fill="none" stroke="#fff" stroke-width="2.6" stroke-linecap="butt"/>
<rect x="182.8" y="692" width="2.8" height="16.4" fill="#fff" stroke="#000" stroke-width="1.1"/>
<line x1="181.5" y1="692.0" x2="186.9" y2="692.0" stroke="#000" stroke-width="1.3" />
<rect x="225.9" y="692" width="2.8" height="16.4" fill="#aaa" stroke="#000" stroke-width="1.1"/>
<line x1="224.6" y1="692.0" x2="230.0" y2="692.0" stroke="#000" stroke-width="1.3" />
<line x1="200.2" y1="645.6" x2="211.3" y2="645.6" stroke="#000" stroke-width="1.5" />
<text x="161.8" y="724.0" font-size="17.5" text-anchor="start" >N</text>
<text x="235.2" y="724.0" font-size="17.5" text-anchor="start" >L</text>
<text x="161.8" y="844.5" font-size="17.5" text-anchor="start" >N</text>
<text x="235.2" y="844.5" font-size="17.5" text-anchor="start" >L</text>
<path d="M173.2,729.8 H200 V770 H211 V729.8 H238.2 V821 H211 V780.5 H200 V821 H173.2 Z" fill="none" stroke="#000" stroke-width="1.4" stroke-linejoin="round" stroke-linecap="round" />
<circle cx="186.8" cy="758.8" r="10.6" fill="none" stroke="#000" stroke-width="1.3"/>
<circle cx="186.8" cy="758.8" r="8.3" fill="none" stroke="#000" stroke-width="1.2"/>
<line x1="186.8" y1="753.3" x2="186.8" y2="764.3" stroke="#000" stroke-width="2.4" />
<circle cx="186.8" cy="791.2" r="10.6" fill="none" stroke="#000" stroke-width="1.3"/>
<circle cx="186.8" cy="791.2" r="8.3" fill="none" stroke="#000" stroke-width="1.2"/>
<line x1="186.8" y1="785.7" x2="186.8" y2="796.7" stroke="#000" stroke-width="2.4" />
<circle cx="224.5" cy="758.8" r="10.6" fill="none" stroke="#000" stroke-width="1.3"/>
<circle cx="224.5" cy="758.8" r="8.3" fill="none" stroke="#000" stroke-width="1.2"/>
<line x1="224.5" y1="753.3" x2="224.5" y2="764.3" stroke="#000" stroke-width="2.4" />
<circle cx="224.5" cy="791.2" r="10.6" fill="none" stroke="#000" stroke-width="1.3"/>
<circle cx="224.5" cy="791.2" r="8.3" fill="none" stroke="#000" stroke-width="1.2"/>
<line x1="224.5" y1="785.7" x2="224.5" y2="796.7" stroke="#000" stroke-width="2.4" />
<circle cx="205.5" cy="775.0" r="2.3" fill="none" stroke="#000" stroke-width="1.1"/>
<path d="M184.4,821.0 C184.5,822.4 184.0,826.3 184.9,829.5 C185.8,832.7 187.7,836.3 189.8,840.1 C191.9,843.9 195.1,847.5 197.3,852.1 C199.5,856.7 202.1,864.9 203.0,867.5" fill="none" stroke="#000" stroke-width="5.4" stroke-linecap="butt"/>
<path d="M184.4,821.0 C184.5,822.4 184.0,826.3 184.9,829.5 C185.8,832.7 187.7,836.3 189.8,840.1 C191.9,843.9 195.1,847.5 197.3,852.1 C199.5,856.7 202.1,864.9 203.0,867.5" fill="none" stroke="#fff" stroke-width="2.6" stroke-linecap="butt"/>
<path d="M227.0,821.0 C226.9,822.4 227.2,826.3 226.3,829.5 C225.4,832.7 223.5,836.3 221.4,840.1 C219.3,843.9 216.2,847.5 213.9,852.1 C211.6,856.7 208.8,864.9 207.8,867.5" fill="none" stroke="#000" stroke-width="5.4" stroke-linecap="butt"/>
<path d="M227.0,821.0 C226.9,822.4 227.2,826.3 226.3,829.5 C225.4,832.7 223.5,836.3 221.4,840.1 C219.3,843.9 216.2,847.5 213.9,852.1 C211.6,856.7 208.8,864.9 207.8,867.5" fill="none" stroke="#fff" stroke-width="2.6" stroke-linecap="butt"/>
<path d="M200.3,867.5 H210.9 V943.4 H200.3 Z" fill="#fff" stroke="#000" stroke-width="1.5" stroke-linejoin="round" stroke-linecap="round" />
<circle cx="291.4" cy="634.6" r="24.1" fill="none" stroke="#000" stroke-width="1.3"/>
<line x1="291.3" y1="617.0" x2="291.3" y2="636.6" stroke="#000" stroke-width="1.3" />
<line x1="272.0" y1="636.6" x2="310.7" y2="636.6" stroke="#000" stroke-width="1.3" />
<line x1="276.8" y1="641.4" x2="306.0" y2="641.4" stroke="#000" stroke-width="1.3" />
<line x1="281.3" y1="646.4" x2="301.4" y2="646.4" stroke="#000" stroke-width="1.3" />
<path d="M305.4,665.3 C306.2,667.8 307.7,675.2 310.0,680.0 C312.3,684.8 316.7,690.0 319.0,694.0 C321.3,698.0 323.0,701.1 324.0,704.0 C325.0,706.9 324.8,710.3 324.9,711.6" fill="none" stroke="#000" stroke-width="4.9" stroke-linecap="butt"/>
<path d="M305.4,665.3 C306.2,667.8 307.7,675.2 310.0,680.0 C312.3,684.8 316.7,690.0 319.0,694.0 C321.3,698.0 323.0,701.1 324.0,704.0 C325.0,706.9 324.8,710.3 324.9,711.6" fill="none" stroke="#fff" stroke-width="2.3" stroke-linecap="butt"/>
<rect x="323.4" y="711.6" width="3" height="16.6" fill="#fff" stroke="#000" stroke-width="1"/>
<path d="M293.8,739.6 H340.4 V791.4 H293.8 Z" fill="#fff" stroke="#000" stroke-width="1.5" stroke-linejoin="round" stroke-linecap="round" />
<rect x="288.1" y="749.2" width="5.7" height="19.7" fill="#fff" stroke="#000" stroke-width="1.3"/>
<rect x="340.4" y="749.2" width="5.7" height="19.7" fill="#fff" stroke="#000" stroke-width="1.3"/>
<circle cx="317.1" cy="759.3" r="21.4" fill="#fff" stroke="#000" stroke-width="1.2"/>
<circle cx="317.1" cy="759.3" r="19.6" fill="none" stroke="#000" stroke-width="1.2"/>
<circle cx="317.1" cy="759.3" r="12.3" fill="none" stroke="#000" stroke-width="2.2"/>
<circle cx="317.1" cy="759.3" r="9.6" fill="none" stroke="#000" stroke-width="1.2"/>
<line x1="317.1" y1="737.9" x2="317.1" y2="747.0" stroke="#000" stroke-width="1.1" />
<line x1="317.1" y1="771.6" x2="317.1" y2="780.7" stroke="#000" stroke-width="1.1" />
<line x1="295.8" y1="759.3" x2="304.8" y2="759.3" stroke="#000" stroke-width="1.1" />
<line x1="329.4" y1="759.3" x2="338.5" y2="759.3" stroke="#000" stroke-width="1.1" />
<path d="M315.8,752.0 h2.8 v5.9 h5.9 v2.8 h-5.9 v5.9 h-2.8 v-5.9 h-5.9 v-2.8 h5.9 Z" fill="none" stroke="#000" stroke-width="1.0" stroke-linejoin="round" stroke-linecap="round" />
<rect x="294.9" y="779" width="43.8" height="12.4" fill="#fff" stroke="none"/>
<line x1="293.8" y1="779.0" x2="340.4" y2="779.0" stroke="#000" stroke-width="1.3" />
<line x1="294.9" y1="782.2" x2="338.7" y2="782.2" stroke="#000" stroke-width="2.6" />
<line x1="294.9" y1="786.3" x2="338.7" y2="786.3" stroke="#000" stroke-width="1.0" />
<line x1="294.9" y1="789.4" x2="338.7" y2="789.4" stroke="#000" stroke-width="2.6" />
<path d="M276.5,791.4 H357.7 Q360.7,791.4 360.7,794.4 V855.8 A43.6,43.6 0 0,1 273.5,855.8 V794.4 Q273.5,791.4 276.5,791.4 Z" fill="#fff" stroke="#000" stroke-width="1.5" stroke-linejoin="round" stroke-linecap="round" />
<line x1="274.0" y1="794.7" x2="360.2" y2="794.7" stroke="#000" stroke-width="1.1" />
<circle cx="317.1" cy="858.3" r="27.3" fill="none" stroke="#000" stroke-width="1.4"/>
<circle cx="295.4" cy="812.7" r="10.6" fill="none" stroke="#000" stroke-width="2.0"/>
<circle cx="295.4" cy="812.7" r="8.6" fill="none" stroke="#000" stroke-width="0.8"/>
<line x1="295.4" y1="806.0" x2="295.4" y2="812.6" stroke="#000" stroke-width="1.1" />
<line x1="289.0" y1="812.8" x2="301.8" y2="812.8" stroke="#000" stroke-width="1.1" />
<line x1="290.8" y1="815.3" x2="300.0" y2="815.3" stroke="#000" stroke-width="1.0" />
<line x1="292.6" y1="817.6" x2="298.2" y2="817.6" stroke="#000" stroke-width="0.9" />
<!-- B ceiling -->
<path d="M881.3,95 V81 Q881.3,77 884.9,77 Q888.5,77 888.5,81 V95 Z" fill="#000"/>
<rect x="883.1" y="92.6" width="3.6" height="1.6" fill="#999"/>
<path d="M932.8,95 V81 Q932.8,77 936.4,77 Q940.0,77 940.0,81 V95 Z" fill="#000"/>
<rect x="934.6" y="92.6" width="3.6" height="1.6" fill="#999"/>
<line x1="736.8" y1="95.5" x2="1077.9" y2="95.5" stroke="#000" stroke-width="1.7" />
<line x1="736.8" y1="102.5" x2="1077.9" y2="102.5" stroke="#000" stroke-width="1.3" />
<line x1="736.8" y1="126.4" x2="1077.9" y2="126.4" stroke="#000" stroke-width="1.4" />
<line x1="737.3" y1="95.5" x2="737.3" y2="126.2" stroke="#000" stroke-width="1.3" />
<line x1="1077.4" y1="95.5" x2="1077.4" y2="126.2" stroke="#000" stroke-width="1.3" />
<line x1="941.0" y1="108.5" x2="958.3" y2="108.5" stroke="#333" stroke-width="0.9" />
<line x1="974.6" y1="108.5" x2="992.0" y2="108.5" stroke="#333" stroke-width="0.9" />
<line x1="1008.9" y1="108.5" x2="1026.2" y2="108.5" stroke="#333" stroke-width="0.9" />
<line x1="1042.9" y1="108.5" x2="1060.1" y2="108.5" stroke="#333" stroke-width="0.9" />
<line x1="755.0" y1="114.5" x2="772.0" y2="114.5" stroke="#333" stroke-width="0.9" />
<line x1="788.9" y1="114.5" x2="805.9" y2="114.5" stroke="#333" stroke-width="0.9" />
<line x1="823.3" y1="114.5" x2="839.9" y2="114.5" stroke="#333" stroke-width="0.9" />
<line x1="856.8" y1="114.5" x2="867.9" y2="114.5" stroke="#333" stroke-width="0.9" />
<line x1="738.4" y1="120.5" x2="755.0" y2="120.5" stroke="#222" stroke-width="1.0" />
<line x1="772.0" y1="120.5" x2="789.4" y2="120.5" stroke="#222" stroke-width="1.0" />
<line x1="805.6" y1="120.3" x2="822.6" y2="120.3" stroke="#888" stroke-width="1.4" />
<line x1="839.9" y1="120.3" x2="856.8" y2="120.3" stroke="#888" stroke-width="1.4" />
<line x1="954.8" y1="120.3" x2="958.3" y2="120.3" stroke="#888" stroke-width="1.4" />
<line x1="975.6" y1="120.3" x2="992.5" y2="120.3" stroke="#888" stroke-width="1.4" />
<line x1="1009.2" y1="120.3" x2="1026.2" y2="120.3" stroke="#888" stroke-width="1.4" />
<rect x="869" y="112.4" width="83.8" height="13.2" fill="#fff" stroke="none"/>
<line x1="868.2" y1="112.4" x2="953.6" y2="112.4" stroke="#000" stroke-width="2" />
<line x1="871.2" y1="118.4" x2="950.6" y2="118.4" stroke="#000" stroke-width="1.2" />
<rect x="868.3" y="112.4" width="2.8" height="22.6" fill="#fff" stroke="#000" stroke-width="1.2"/>
<rect x="950.6" y="112.4" width="3" height="22.3" fill="#fff" stroke="#000" stroke-width="1.2"/>
<line x1="869.2" y1="112.4" x2="869.2" y2="129.0" stroke="#000" stroke-width="2.2" />
<line x1="952.4" y1="112.4" x2="952.4" y2="127.0" stroke="#000" stroke-width="2.6" />
<ellipse cx="884.5" cy="116.3" rx="6" ry="1.5" fill="#222"/>
<ellipse cx="936" cy="116" rx="6" ry="1.8" fill="#222"/>
<line x1="898.0" y1="117.6" x2="912.0" y2="117.6" stroke="#666" stroke-width="1.2" />
<line x1="917.0" y1="117.6" x2="928.0" y2="117.6" stroke="#555" stroke-width="1.6" />
<line x1="869.1" y1="135.0" x2="869.1" y2="186.0" stroke="#000" stroke-width="1.0" />
<line x1="952.7" y1="134.7" x2="952.7" y2="186.0" stroke="#000" stroke-width="1.0" />
<path d="M935.5,118.5 C934.4,120.1 931.4,124.7 929.0,128.0 C926.6,131.3 922.0,135.0 921.3,138.5 C920.6,142.0 922.5,145.6 925.0,149.0 C927.5,152.4 932.8,155.8 936.0,159.0 C939.2,162.2 943.4,165.5 944.2,168.0 C945.0,170.5 942.5,172.0 941.0,174.0 C939.5,176.0 936.0,179.0 935.0,180.0" fill="none" stroke="#000" stroke-width="4.6" stroke-linecap="butt"/>
<path d="M935.5,118.5 C934.4,120.1 931.4,124.7 929.0,128.0 C926.6,131.3 922.0,135.0 921.3,138.5 C920.6,142.0 922.5,145.6 925.0,149.0 C927.5,152.4 932.8,155.8 936.0,159.0 C939.2,162.2 943.4,165.5 944.2,168.0 C945.0,170.5 942.5,172.0 941.0,174.0 C939.5,176.0 936.0,179.0 935.0,180.0" fill="none" stroke="#fff" stroke-width="1.9" stroke-linecap="butt"/>
<path d="M864.6,190 A46,14 0 0,1 956.6,190 V214.8 A46,12.9 0 0,1 864.6,214.8 Z" fill="#fff" stroke="#000" stroke-width="1.3" stroke-linejoin="round" stroke-linecap="round" />
<path d="M864.6,214.8 V190 A46,14 0 0,1 956.6,190" fill="none" stroke="#000" stroke-width="2.0" stroke-linejoin="round" stroke-linecap="round" />
<path d="M864.6,214.8 A46,12.9 0 0,1 956.6,214.8" fill="none" stroke="#222" stroke-width="1.0" stroke-linejoin="round" stroke-linecap="round" />
<path d="M867,212 A44,13.4 0 0,1 954,212" fill="none" stroke="#555" stroke-width="0.9" stroke-linejoin="round" stroke-linecap="round" stroke-dasharray="0.9 4.2"/>
<path d="M901.5,216 V232 Q910.8,236.5 920.2,232 V216" fill="#fff" stroke="#000" stroke-width="1.6" stroke-linejoin="round" stroke-linecap="round" />
<ellipse cx="910.8" cy="215.8" rx="9.3" ry="2.4" fill="#fff" stroke="#888" stroke-width="0.8"/>
<rect x="917.7" y="224.4" width="4.6" height="8.6" rx="1" fill="#000"/>
<path d="M903,230.5 Q910.8,234.5 918.6,230.5" fill="none" stroke="#000" stroke-width="1.0" stroke-linejoin="round" stroke-linecap="round" />
<rect x="906.4" y="233.4" width="8.4" height="820.6" fill="#fff" stroke="none"/>
<line x1="907.2" y1="232.8" x2="907.2" y2="1054.0" stroke="#000" stroke-width="1.6" />
<line x1="913.9" y1="232.8" x2="913.9" y2="1054.0" stroke="#000" stroke-width="1.6" />
<rect x="829.4" y="194.6" width="4.6" height="11" rx="1.8" fill="#fff" stroke="#000" stroke-width="1.7"/>
<rect x="833.4" y="196.3" width="10" height="7.6" fill="#222"/>
<rect x="834.4" y="200" width="7" height="2.6" fill="#999"/>
<ellipse cx="846.4" cy="200" rx="1.2" ry="6" fill="#fff" stroke="#000" stroke-width="1.7"/>
<rect x="981.4" y="194.6" width="4.6" height="11" rx="1.8" fill="#fff" stroke="#000" stroke-width="1.7"/>
<rect x="972.0" y="196.3" width="10" height="7.6" fill="#222"/>
<rect x="974.0" y="200" width="7" height="2.6" fill="#999"/>
<ellipse cx="969.0" cy="200" rx="1.2" ry="6" fill="#fff" stroke="#000" stroke-width="1.7"/>
<line x1="848.0" y1="199.7" x2="864.6" y2="199.7" stroke="#000" stroke-width="1.0" />
<line x1="956.6" y1="199.7" x2="967.0" y2="199.7" stroke="#000" stroke-width="1.0" />
<line x1="910.9" y1="188.4" x2="662.8" y2="542.7" stroke="#000" stroke-width="1.3" />
<!-- step3 -->
<rect x="451.2" y="542.7" width="423.4" height="438.9" fill="none" stroke="#8a8a8a" stroke-width="1.1"/>
<line x1="492.5" y1="542.6" x2="492.5" y2="612.4" stroke="#222" stroke-width="1.0" />
<line x1="492.5" y1="594.5" x2="534.0" y2="594.5" stroke="#222" stroke-width="1.0" />
<line x1="576.5" y1="542.6" x2="576.5" y2="551.4" stroke="#222" stroke-width="1.0" />
<line x1="619.5" y1="542.6" x2="619.5" y2="551.4" stroke="#222" stroke-width="1.0" />
<line x1="577.3" y1="558.5" x2="619.0" y2="558.5" stroke="#222" stroke-width="1.0" />
<line x1="577.3" y1="594.5" x2="619.0" y2="594.5" stroke="#222" stroke-width="1.0" />
<line x1="661.5" y1="558.5" x2="661.5" y2="570.7" stroke="#222" stroke-width="1.0" />
<line x1="661.5" y1="589.0" x2="661.5" y2="612.4" stroke="#222" stroke-width="1.0" />
<line x1="661.5" y1="558.5" x2="703.9" y2="558.5" stroke="#222" stroke-width="1.0" />
<line x1="661.5" y1="594.5" x2="703.9" y2="594.5" stroke="#222" stroke-width="1.0" />
<line x1="703.5" y1="542.6" x2="703.5" y2="569.7" stroke="#222" stroke-width="1.0" />
<line x1="703.5" y1="589.0" x2="703.5" y2="612.4" stroke="#222" stroke-width="1.0" />
<line x1="746.5" y1="542.6" x2="746.5" y2="569.7" stroke="#222" stroke-width="1.0" />
<line x1="746.5" y1="589.0" x2="746.5" y2="612.4" stroke="#222" stroke-width="1.0" />
<line x1="746.0" y1="558.5" x2="788.9" y2="558.5" stroke="#222" stroke-width="1.0" />
<line x1="746.0" y1="594.5" x2="770.0" y2="594.5" stroke="#222" stroke-width="1.0" />
<line x1="774.0" y1="594.5" x2="788.9" y2="594.5" stroke="#222" stroke-width="1.0" />
<line x1="788.5" y1="542.6" x2="788.5" y2="612.4" stroke="#222" stroke-width="1.0" />
<line x1="831.5" y1="542.6" x2="831.5" y2="577.8" stroke="#222" stroke-width="1.0" />
<line x1="831.0" y1="558.5" x2="873.7" y2="558.5" stroke="#222" stroke-width="1.0" />
<line x1="831.0" y1="594.5" x2="873.7" y2="594.5" stroke="#222" stroke-width="1.0" />
<line x1="874.2" y1="542.6" x2="874.2" y2="583.0" stroke="#333" stroke-width="1.1" />
<path d="M565.1,629 V575.5 Q565.1,571.7 569,571.7 H770 Q773.7,571.7 773.7,575.5 V629 H770.3 V576.5 Q770.3,574 768,574 H571 Q568.5,574 568.5,576.5 V629 Z" fill="#fff" stroke="#000" stroke-width="1.1"/>
<line x1="565.3" y1="578.0" x2="565.3" y2="629.0" stroke="#000" stroke-width="1.6" />
<line x1="773.3" y1="578.0" x2="773.3" y2="629.0" stroke="#000" stroke-width="1.6" />
<line x1="570.0" y1="589.4" x2="618.0" y2="589.4" stroke="#333" stroke-width="1.0" />
<line x1="565.2" y1="606.0" x2="568.5" y2="606.0" stroke="#000" stroke-width="0.8" />
<line x1="770.3" y1="606.0" x2="773.7" y2="606.0" stroke="#000" stroke-width="0.8" />
<line x1="565.6" y1="629.0" x2="565.6" y2="748.0" stroke="#222" stroke-width="0.9" />
<line x1="774.0" y1="629.0" x2="774.0" y2="748.0" stroke="#222" stroke-width="0.9" />
<ellipse cx="606.4" cy="582.5" rx="11.5" ry="4.2" fill="#fff" stroke="#222" stroke-width="1.2" stroke-dasharray="5 1.5"/>
<ellipse cx="606.4" cy="583.0" rx="7.1" ry="2.2" fill="none" stroke="#444" stroke-width="0.8"/>
<line x1="602.4" y1="583.0" x2="610.4" y2="583.0" stroke="#333" stroke-width="0.9" />
<line x1="606.4" y1="581.5" x2="606.4" y2="584.9" stroke="#333" stroke-width="0.9" />
<ellipse cx="733.4" cy="581.3" rx="10.0" ry="4.2" fill="#fff" stroke="#222" stroke-width="1.2" stroke-dasharray="5 1.5"/>
<ellipse cx="733.4" cy="581.8" rx="6.2" ry="2.2" fill="none" stroke="#444" stroke-width="0.8"/>
<line x1="729.4" y1="581.8" x2="737.4" y2="581.8" stroke="#333" stroke-width="0.9" />
<line x1="733.4" y1="580.3" x2="733.4" y2="583.7" stroke="#333" stroke-width="0.9" />
<rect x="728.5" y="577.4" width="10" height="2.4" fill="#888"/>
<ellipse cx="715.1" cy="593" rx="5" ry="3.7" fill="none" stroke="#444" stroke-width="0.8" stroke-dasharray="3 1.5"/>
<ellipse cx="732.4" cy="593" rx="5" ry="3.7" fill="none" stroke="#444" stroke-width="0.8" stroke-dasharray="3 1.5"/>
<path d="M723.0,594.0 C721.8,596.2 718.3,603.0 716.0,607.0 C713.7,611.0 711.8,614.0 709.3,618.0 C706.8,622.0 703.1,626.8 701.0,631.0 C698.9,635.2 697.3,639.8 696.9,643.5 C696.5,647.2 697.4,650.1 698.5,653.0 C699.6,655.9 701.0,657.7 703.7,661.1 C706.5,664.5 711.0,669.5 715.0,673.5 C719.0,677.5 723.4,681.0 727.7,685.2 C732.0,689.5 737.0,694.4 741.0,699.0 C745.0,703.6 749.9,709.4 752.0,712.8 C754.1,716.2 754.2,717.3 753.5,719.5 C752.8,721.7 750.0,724.2 748.0,726.0 C746.0,727.8 743.6,728.8 741.4,730.5 C739.2,732.2 736.1,735.1 735.0,736.0" fill="none" stroke="#222" stroke-width="8.6"/>
<path d="M723.0,594.0 C721.8,596.2 718.3,603.0 716.0,607.0 C713.7,611.0 711.8,614.0 709.3,618.0 C706.8,622.0 703.1,626.8 701.0,631.0 C698.9,635.2 697.3,639.8 696.9,643.5 C696.5,647.2 697.4,650.1 698.5,653.0 C699.6,655.9 701.0,657.7 703.7,661.1 C706.5,664.5 711.0,669.5 715.0,673.5 C719.0,677.5 723.4,681.0 727.7,685.2 C732.0,689.5 737.0,694.4 741.0,699.0 C745.0,703.6 749.9,709.4 752.0,712.8 C754.1,716.2 754.2,717.3 753.5,719.5 C752.8,721.7 750.0,724.2 748.0,726.0 C746.0,727.8 743.6,728.8 741.4,730.5 C739.2,732.2 736.1,735.1 735.0,736.0" fill="none" stroke="#fff" stroke-width="6.8"/>
<path d="M556.6,765.3 Q556.8,751 566,746 Q600,726 669.5,723.9 Q739,726 773,746 Q782.3,751 782.5,765.3 V825 A113,35.6 0 0,1 556.6,825 Z" fill="#fff" stroke="none"/>
<path d="M556.6,766 Q556.8,751 566,746 Q600,726 669.5,723.9 Q739,726 773,746 Q782.3,751 782.5,766" fill="none" stroke="#000" stroke-width="1.7" stroke-linejoin="round" stroke-linecap="round" />
<line x1="556.9" y1="765.0" x2="556.9" y2="826.0" stroke="#000" stroke-width="2.0" />
<line x1="782.4" y1="765.0" x2="782.4" y2="826.0" stroke="#333" stroke-width="1.0" stroke-dasharray="14 4 30 5"/>
<ellipse cx="669.5" cy="825" rx="113" ry="35.6" fill="none" stroke="#333" stroke-width="0.9" stroke-dasharray="9 2.5"/>
<path d="M650.3,822.5 V868 Q669.8,876.5 689.4,868 V822.5 Z" fill="#fff" stroke="none"/>
<line x1="650.3" y1="823.0" x2="650.3" y2="868.5" stroke="#222" stroke-width="0.9" />
<line x1="689.4" y1="823.0" x2="689.4" y2="848.0" stroke="#222" stroke-width="0.9" />
<path d="M650.3,868 Q669.8,876.5 689.4,868" fill="none" stroke="#222" stroke-width="0.9" stroke-linejoin="round" stroke-linecap="round" stroke-dasharray="7 2"/>
<path d="M650.3,823 Q669.8,815.5 689.4,823" fill="none" stroke="#222" stroke-width="0.9" stroke-linejoin="round" stroke-linecap="round" stroke-dasharray="7 2"/>
<ellipse cx="667.6" cy="867.8" rx="9" ry="3.2" fill="none" stroke="#333" stroke-width="0.8" stroke-dasharray="6 2"/>
<rect x="687.3" y="848.2" width="9.8" height="18" rx="1.5" fill="#fff" stroke="#000" stroke-width="1.2"/>
<line x1="689.4" y1="849.0" x2="689.4" y2="865.5" stroke="#333" stroke-width="0.8" />
<line x1="691.6" y1="849.0" x2="691.6" y2="865.5" stroke="#333" stroke-width="0.8" />
<line x1="693.8" y1="849.0" x2="693.8" y2="865.5" stroke="#333" stroke-width="0.8" />
<line x1="695.6" y1="849.0" x2="695.6" y2="865.5" stroke="#333" stroke-width="0.8" />
<line x1="687.5" y1="852.5" x2="697.0" y2="852.5" stroke="#888" stroke-width="0.6" />
<line x1="687.5" y1="856.5" x2="697.0" y2="856.5" stroke="#888" stroke-width="0.6" />
<line x1="687.5" y1="860.5" x2="697.0" y2="860.5" stroke="#888" stroke-width="0.6" />
<line x1="677.2" y1="864.0" x2="677.2" y2="981.6" stroke="#333" stroke-width="1.0" />
<path d="M477.8,776.4 H472.5 Q468.3,778 468.3,787.4 Q468.3,796.8 472.5,798.4 H477.8 Z" fill="#fff" stroke="#000" stroke-width="1.3"/>
<line x1="474.4" y1="777.0" x2="474.4" y2="798.0" stroke="#666" stroke-width="0.8" />
<rect x="477.8" y="781.2" width="20.7" height="5.2" fill="#000"/>
<rect x="477.8" y="786.4" width="20.7" height="7.3" fill="#8a8a8a"/>
<rect x="496.5" y="788" width="2" height="3.4" fill="#ddd"/>
<path d="M477.8,781.2 H498.5 V793.7 H477.8" fill="none" stroke="#000" stroke-width="0.9"/>
<ellipse cx="508.4" cy="787.8" rx="1.7" ry="12.4" fill="#fff" stroke="#000" stroke-width="1.2"/>
<line x1="498.5" y1="788.3" x2="506.6" y2="788.3" stroke="#000" stroke-width="0.9" />
<line x1="510.2" y1="788.3" x2="556.9" y2="788.3" stroke="#000" stroke-width="0.9" />
<path d="M847.5,776.2 H852.7 Q857.2,778 857.2,787.3 Q857.2,796.6 852.7,798.6 H847.5 Z" fill="#fff" stroke="#000" stroke-width="1.3"/>
<line x1="851.6" y1="789.0" x2="851.6" y2="797.5" stroke="#444" stroke-width="0.8" />
<rect x="826.2" y="781.2" width="21.3" height="5.2" fill="#000"/>
<rect x="826.2" y="786.4" width="21.3" height="7.3" fill="#8a8a8a"/>
<rect x="827.5" y="788.5" width="5" height="2.6" fill="#ddd"/>
<path d="M847.5,781.2 H826.2 V793.7 H847.5" fill="none" stroke="#000" stroke-width="0.9"/>
<ellipse cx="817" cy="787.8" rx="1.7" ry="12.4" fill="#fff" stroke="#000" stroke-width="1.2"/>
<line x1="782.5" y1="787.6" x2="815.2" y2="787.6" stroke="#000" stroke-width="0.9" />
<line x1="818.8" y1="787.6" x2="826.2" y2="787.6" stroke="#000" stroke-width="0.9" />
<!-- lamp -->
<path d="M937.2,1073.0 L1026.2,1177.4 L1075.7,1232.1 L999.5,1294.6 M931.4,1074.3 L999.5,1187.8 L1037.4,1246.6 L979.2,1302.7 M922.8,1075.2 L959.7,1194.8 L980.2,1256.3 L948.7,1308.1 M912.7,1075.5 L912.7,1197.3 L912.7,1259.7 L912.7,1310.0 M902.6,1075.2 L865.7,1194.8 L845.2,1256.3 L876.7,1308.1 M894.0,1074.3 L825.9,1187.8 L788.0,1246.6 L846.2,1302.7 M888.2,1073.0 L799.2,1177.4 L749.7,1232.1 L825.9,1294.6 M1089.1,1215.0 L1075.7,1232.1 M1075.7,1232.1 L1037.4,1246.6 M1037.4,1246.6 L980.2,1256.3 M980.2,1256.3 L912.7,1259.7 M912.7,1259.7 L845.2,1256.3 M845.2,1256.3 L788.0,1246.6 M788.0,1246.6 L749.7,1232.1 M749.7,1232.1 L736.3,1215.0 M789.9,1165.0 A122.8,32.3 0 0,0 1035.5,1165.0 M818.7,1285.0 A94.0,25.0 0 0,0 1006.7,1285.0" fill="none" stroke="#000" stroke-width="4.9" stroke-linejoin="round" stroke-linecap="butt"/>
<path d="M937.2,1073.0 L1026.2,1177.4 L1075.7,1232.1 L999.5,1294.6 M931.4,1074.3 L999.5,1187.8 L1037.4,1246.6 L979.2,1302.7 M922.8,1075.2 L959.7,1194.8 L980.2,1256.3 L948.7,1308.1 M912.7,1075.5 L912.7,1197.3 L912.7,1259.7 L912.7,1310.0 M902.6,1075.2 L865.7,1194.8 L845.2,1256.3 L876.7,1308.1 M894.0,1074.3 L825.9,1187.8 L788.0,1246.6 L846.2,1302.7 M888.2,1073.0 L799.2,1177.4 L749.7,1232.1 L825.9,1294.6 M1089.1,1215.0 L1075.7,1232.1 M1075.7,1232.1 L1037.4,1246.6 M1037.4,1246.6 L980.2,1256.3 M980.2,1256.3 L912.7,1259.7 M912.7,1259.7 L845.2,1256.3 M845.2,1256.3 L788.0,1246.6 M788.0,1246.6 L749.7,1232.1 M749.7,1232.1 L736.3,1215.0 M789.9,1165.0 A122.8,32.3 0 0,0 1035.5,1165.0 M818.7,1285.0 A94.0,25.0 0 0,0 1006.7,1285.0" fill="none" stroke="#fff" stroke-width="1.5" stroke-linejoin="round" stroke-linecap="butt"/>
<rect x="902.3" y="1071" width="17.3" height="40" fill="#fff" stroke="#000" stroke-width="1.2"/>
<path d="M889.3,1112.5 V1180.6 A23.2,5.3 0 0,0 935.8,1180.6 V1112.5 A23.2,3.6 0 0,0 889.3,1112.5 Z" fill="#fff" stroke="#000" stroke-width="1.3"/>
<path d="M889.3,1112.5 A23.2,3.6 0 0,0 935.8,1112.5" fill="none" stroke="#000" stroke-width="1.1"/>
<ellipse cx="912.5" cy="1180.6" rx="23.2" ry="5.3" fill="#fff" stroke="#000" stroke-width="1.2"/>
<ellipse cx="912.5" cy="1180.8" rx="19.5" ry="4.2" fill="none" stroke="#555" stroke-width="1.6" stroke-dasharray="1.2 1.2"/>
<ellipse cx="912.5" cy="1180.8" rx="16" ry="3.2" fill="#fff" stroke="#000" stroke-width="1.1"/>
<path d="M886.2,1071.5 L789.9,1165.0 L736.3,1215.0 L818.7,1285.0 M888.2,1070.0 L799.2,1152.6 L749.7,1197.9 L825.9,1275.4 M894.0,1068.7 L825.9,1142.2 L788.0,1183.4 L846.2,1267.3 M902.6,1067.8 L865.7,1135.2 L845.2,1173.7 L876.7,1261.9 M912.7,1067.5 L912.7,1132.7 L912.7,1170.3 L912.7,1260.0 M922.8,1067.8 L959.7,1135.2 L980.2,1173.7 L948.7,1261.9 M931.4,1068.7 L999.5,1142.2 L1037.4,1183.4 L979.2,1267.3 M937.2,1070.0 L1026.2,1152.6 L1075.7,1197.9 L999.5,1275.4 M939.2,1071.5 L1035.5,1165.0 L1089.1,1215.0 L1006.7,1285.0 M736.3,1215.0 L749.7,1197.9 M749.7,1197.9 L788.0,1183.4 M788.0,1183.4 L845.2,1173.7 M845.2,1173.7 L912.7,1170.3 M912.7,1170.3 L980.2,1173.7 M980.2,1173.7 L1037.4,1183.4 M1037.4,1183.4 L1075.7,1197.9 M1075.7,1197.9 L1089.1,1215.0 M789.9,1165.0 A122.8,32.3 0 0,1 1035.5,1165.0 M818.7,1285.0 A94.0,25.0 0 0,1 1006.7,1285.0" fill="none" stroke="#000" stroke-width="4.9" stroke-linejoin="round" stroke-linecap="butt"/>
<path d="M886.2,1071.5 L789.9,1165.0 L736.3,1215.0 L818.7,1285.0 M888.2,1070.0 L799.2,1152.6 L749.7,1197.9 L825.9,1275.4 M894.0,1068.7 L825.9,1142.2 L788.0,1183.4 L846.2,1267.3 M902.6,1067.8 L865.7,1135.2 L845.2,1173.7 L876.7,1261.9 M912.7,1067.5 L912.7,1132.7 L912.7,1170.3 L912.7,1260.0 M922.8,1067.8 L959.7,1135.2 L980.2,1173.7 L948.7,1261.9 M931.4,1068.7 L999.5,1142.2 L1037.4,1183.4 L979.2,1267.3 M937.2,1070.0 L1026.2,1152.6 L1075.7,1197.9 L999.5,1275.4 M939.2,1071.5 L1035.5,1165.0 L1089.1,1215.0 L1006.7,1285.0 M736.3,1215.0 L749.7,1197.9 M749.7,1197.9 L788.0,1183.4 M788.0,1183.4 L845.2,1173.7 M845.2,1173.7 L912.7,1170.3 M912.7,1170.3 L980.2,1173.7 M980.2,1173.7 L1037.4,1183.4 M1037.4,1183.4 L1075.7,1197.9 M1075.7,1197.9 L1089.1,1215.0 M789.9,1165.0 A122.8,32.3 0 0,1 1035.5,1165.0 M818.7,1285.0 A94.0,25.0 0 0,1 1006.7,1285.0" fill="none" stroke="#fff" stroke-width="1.5" stroke-linejoin="round" stroke-linecap="butt"/>
<path d="M886.2,1071.5 L789.9,1165.0 L736.3,1215.0 M888.2,1070.0 L799.2,1152.6 L749.7,1197.9 M888.2,1073.0 L799.2,1177.4 L749.7,1232.1 M937.2,1070.0 L1026.2,1152.6 L1075.7,1197.9 M939.2,1071.5 L1035.5,1165.0 L1089.1,1215.0 M937.2,1073.0 L1026.2,1177.4 L1075.7,1232.1 M749.7,1232.1 L825.9,1294.6 M1075.7,1232.1 L999.5,1294.6" fill="none" stroke="#000" stroke-width="0.8" stroke-linejoin="round"/>
<path d="M885.7,1071.8 A27.0,4.0 0 0,1 939.7,1071.8" fill="none" stroke="#000" stroke-width="3" stroke-linecap="round"/>
<path d="M904,1067.7 V1057 Q904,1053.7 907.5,1053.7 H917 Q920.5,1053.7 920.5,1057 V1067.7 Z" fill="#fff" stroke="#000" stroke-width="1.7"/>
<path d="M920.5,1056 H922.5 Q924,1056 924,1058 V1063 Q924,1065 922.5,1065 H920.5 Z" fill="#000" stroke="#000" stroke-width="0.8"/>
<rect x="921" y="1060" width="1.6" height="2.4" fill="#ccc"/>
<!-- tools -->
<path d="M107.4,1246.6 L114.2,1241.7 L171.7,1241.7 L175.5,1242.9 L203.9,1242.9 L203.9,1260.2 L175.5,1260.2 L171.7,1261.5 L114.2,1261.5 L107.4,1256.5 Z" fill="#fff" stroke="#000" stroke-width="2.0" stroke-linejoin="round" stroke-linecap="round" />
<rect x="203.9" y="1238.6" width="3" height="26" rx="1.2" fill="#000"/>
<line x1="116.7" y1="1241.7" x2="116.7" y2="1261.5" stroke="#000" stroke-width="2.3" />
<line x1="121.6" y1="1241.7" x2="121.6" y2="1261.5" stroke="#000" stroke-width="2.3" />
<line x1="130.9" y1="1241.7" x2="130.9" y2="1261.5" stroke="#000" stroke-width="2.3" />
<line x1="135.2" y1="1241.7" x2="135.2" y2="1261.5" stroke="#000" stroke-width="2.3" />
<line x1="144.5" y1="1241.7" x2="144.5" y2="1261.5" stroke="#000" stroke-width="2.3" />
<line x1="149.5" y1="1241.7" x2="149.5" y2="1261.5" stroke="#000" stroke-width="2.3" />
<line x1="158.7" y1="1241.7" x2="158.7" y2="1261.5" stroke="#000" stroke-width="2.3" />
<line x1="163.7" y1="1241.7" x2="163.7" y2="1261.5" stroke="#000" stroke-width="2.3" />
<line x1="170.5" y1="1241.7" x2="170.5" y2="1261.5" stroke="#000" stroke-width="2.3" />
<line x1="107.4" y1="1251.6" x2="171.7" y2="1251.6" stroke="#000" stroke-width="1.2" />
<path d="M121.0,1246.0 L135.8,1257.8 L135.8,1251.6 L125.9,1246.0 Z" fill="#000" stroke="#000" stroke-width="0.8" stroke-linejoin="round" stroke-linecap="round" />
<path d="M135.2,1246.0 L150.1,1257.8 L150.1,1251.6 L140.2,1246.0 Z" fill="#000" stroke="#000" stroke-width="0.8" stroke-linejoin="round" stroke-linecap="round" />
<path d="M149.5,1246.0 L164.3,1257.8 L164.3,1251.6 L154.4,1246.0 Z" fill="#000" stroke="#000" stroke-width="0.8" stroke-linejoin="round" stroke-linecap="round" />
<line x1="175.5" y1="1244.8" x2="203.9" y2="1244.8" stroke="#000" stroke-width="1.8" />
<line x1="175.5" y1="1258.4" x2="203.9" y2="1258.4" stroke="#000" stroke-width="1.8" />
<rect x="177.9" y="1247.2" width="16" height="9" fill="#fff" stroke="#000" stroke-width="1.6"/>
<path d="M181.6,1248.2 Q179.4,1251.7 181.6,1255.2" fill="none" stroke="#000" stroke-width="1.4" stroke-linejoin="round" stroke-linecap="round" />
<path d="M186.0,1248.2 Q183.7,1251.7 186.0,1255.2" fill="none" stroke="#000" stroke-width="1.4" stroke-linejoin="round" stroke-linecap="round" />
<path d="M190.3,1248.2 Q188.1,1251.7 190.3,1255.2" fill="none" stroke="#000" stroke-width="1.4" stroke-linejoin="round" stroke-linecap="round" />
<path d="M196.5,1244.8 L200.8,1247.8 L200.8,1255.3 L196.5,1258.4" fill="none" stroke="#000" stroke-width="1.2" stroke-linejoin="round" stroke-linecap="round" />
<path d="M153.2,1242.3 Q165.6,1241.0 173.6,1236.7" fill="none" stroke="#000" stroke-width="2.6" stroke-linejoin="round" stroke-linecap="round" />
<path d="M159.4,1261.5 Q168.0,1262.7 174.2,1267.0" fill="none" stroke="#000" stroke-width="2.2" stroke-linejoin="round" stroke-linecap="round" />
<path d="M161.8,1242.3 Q168.0,1241.3 172.7,1238.6" fill="none" stroke="#000" stroke-width="1.2" stroke-linejoin="round" stroke-linecap="round" />
<text x="162.2" y="1290.6" font-size="16.4" text-anchor="start" >x2</text>
<g transform="translate(103.7,1301.7) rotate(6.67)">
<path d="M0,0 L8,-3 L8,3 Z" fill="#fff" stroke="#000" stroke-width="1.2"/>
<rect x="7" y="-4.7" width="102.1" height="9.4" fill="#000"/>
<line x1="9.5" y1="3.1" x2="11.1" y2="-3.1" stroke="#fff" stroke-width="1.1"/>
<line x1="13.1" y1="3.1" x2="14.7" y2="-3.1" stroke="#fff" stroke-width="1.1"/>
<line x1="16.7" y1="3.1" x2="18.3" y2="-3.1" stroke="#fff" stroke-width="1.1"/>
<line x1="20.3" y1="3.1" x2="21.9" y2="-3.1" stroke="#fff" stroke-width="1.1"/>
<line x1="23.9" y1="3.1" x2="25.5" y2="-3.1" stroke="#fff" stroke-width="1.1"/>
<line x1="27.5" y1="3.1" x2="29.1" y2="-3.1" stroke="#fff" stroke-width="1.1"/>
<line x1="31.1" y1="3.1" x2="32.7" y2="-3.1" stroke="#fff" stroke-width="1.1"/>
<line x1="34.7" y1="3.1" x2="36.3" y2="-3.1" stroke="#fff" stroke-width="1.1"/>
<line x1="38.3" y1="3.1" x2="39.9" y2="-3.1" stroke="#fff" stroke-width="1.1"/>
<line x1="41.9" y1="3.1" x2="43.5" y2="-3.1" stroke="#fff" stroke-width="1.1"/>
<line x1="45.5" y1="3.1" x2="47.1" y2="-3.1" stroke="#fff" stroke-width="1.1"/>
<line x1="49.1" y1="3.1" x2="50.7" y2="-3.1" stroke="#fff" stroke-width="1.1"/>
<line x1="52.7" y1="3.1" x2="54.3" y2="-3.1" stroke="#fff" stroke-width="1.1"/>
<line x1="56.3" y1="3.1" x2="57.9" y2="-3.1" stroke="#fff" stroke-width="1.1"/>
<line x1="59.9" y1="3.1" x2="61.5" y2="-3.1" stroke="#fff" stroke-width="1.1"/>
<line x1="63.5" y1="3.1" x2="65.1" y2="-3.1" stroke="#fff" stroke-width="1.1"/>
<line x1="67.1" y1="3.1" x2="68.7" y2="-3.1" stroke="#fff" stroke-width="1.1"/>
<line x1="70.7" y1="3.1" x2="72.3" y2="-3.1" stroke="#fff" stroke-width="1.1"/>
<line x1="74.3" y1="3.1" x2="75.9" y2="-3.1" stroke="#fff" stroke-width="1.1"/>
<line x1="77.9" y1="3.1" x2="79.5" y2="-3.1" stroke="#fff" stroke-width="1.1"/>
<line x1="81.5" y1="3.1" x2="83.1" y2="-3.1" stroke="#fff" stroke-width="1.1"/>
<line x1="85.1" y1="3.1" x2="86.7" y2="-3.1" stroke="#fff" stroke-width="1.1"/>
<line x1="88.7" y1="3.1" x2="90.3" y2="-3.1" stroke="#fff" stroke-width="1.1"/>
<line x1="92.3" y1="3.1" x2="93.9" y2="-3.1" stroke="#fff" stroke-width="1.1"/>
<line x1="95.9" y1="3.1" x2="97.5" y2="-3.1" stroke="#fff" stroke-width="1.1"/>
<line x1="99.5" y1="3.1" x2="101.1" y2="-3.1" stroke="#fff" stroke-width="1.1"/>
<line x1="103.1" y1="3.1" x2="104.7" y2="-3.1" stroke="#fff" stroke-width="1.1"/>
<line x1="106.7" y1="3.1" x2="108.3" y2="-3.1" stroke="#fff" stroke-width="1.1"/>
<circle cx="8.0" cy="-5" r="0.9" fill="#fff"/><circle cx="9.2" cy="5" r="0.9" fill="#fff"/>
<circle cx="11.6" cy="-5" r="0.9" fill="#fff"/><circle cx="12.8" cy="5" r="0.9" fill="#fff"/>
<circle cx="15.2" cy="-5" r="0.9" fill="#fff"/><circle cx="16.4" cy="5" r="0.9" fill="#fff"/>
<circle cx="18.8" cy="-5" r="0.9" fill="#fff"/><circle cx="20.0" cy="5" r="0.9" fill="#fff"/>
<circle cx="22.4" cy="-5" r="0.9" fill="#fff"/><circle cx="23.6" cy="5" r="0.9" fill="#fff"/>
<circle cx="26.0" cy="-5" r="0.9" fill="#fff"/><circle cx="27.2" cy="5" r="0.9" fill="#fff"/>
<circle cx="29.6" cy="-5" r="0.9" fill="#fff"/><circle cx="30.8" cy="5" r="0.9" fill="#fff"/>
<circle cx="33.2" cy="-5" r="0.9" fill="#fff"/><circle cx="34.4" cy="5" r="0.9" fill="#fff"/>
<circle cx="36.8" cy="-5" r="0.9" fill="#fff"/><circle cx="38.0" cy="5" r="0.9" fill="#fff"/>
<circle cx="40.4" cy="-5" r="0.9" fill="#fff"/><circle cx="41.6" cy="5" r="0.9" fill="#fff"/>
<circle cx="44.0" cy="-5" r="0.9" fill="#fff"/><circle cx="45.2" cy="5" r="0.9" fill="#fff"/>
<circle cx="47.6" cy="-5" r="0.9" fill="#fff"/><circle cx="48.8" cy="5" r="0.9" fill="#fff"/>
<circle cx="51.2" cy="-5" r="0.9" fill="#fff"/><circle cx="52.4" cy="5" r="0.9" fill="#fff"/>
<circle cx="54.8" cy="-5" r="0.9" fill="#fff"/><circle cx="56.0" cy="5" r="0.9" fill="#fff"/>
<circle cx="58.4" cy="-5" r="0.9" fill="#fff"/><circle cx="59.6" cy="5" r="0.9" fill="#fff"/>
<circle cx="62.0" cy="-5" r="0.9" fill="#fff"/><circle cx="63.2" cy="5" r="0.9" fill="#fff"/>
<circle cx="65.6" cy="-5" r="0.9" fill="#fff"/><circle cx="66.8" cy="5" r="0.9" fill="#fff"/>
<circle cx="69.2" cy="-5" r="0.9" fill="#fff"/><circle cx="70.4" cy="5" r="0.9" fill="#fff"/>
<circle cx="72.8" cy="-5" r="0.9" fill="#fff"/><circle cx="74.0" cy="5" r="0.9" fill="#fff"/>
<circle cx="76.4" cy="-5" r="0.9" fill="#fff"/><circle cx="77.6" cy="5" r="0.9" fill="#fff"/>
<circle cx="80.0" cy="-5" r="0.9" fill="#fff"/><circle cx="81.2" cy="5" r="0.9" fill="#fff"/>
<circle cx="83.6" cy="-5" r="0.9" fill="#fff"/><circle cx="84.8" cy="5" r="0.9" fill="#fff"/>
<circle cx="87.2" cy="-5" r="0.9" fill="#fff"/><circle cx="88.4" cy="5" r="0.9" fill="#fff"/>
<circle cx="90.8" cy="-5" r="0.9" fill="#fff"/><circle cx="92.0" cy="5" r="0.9" fill="#fff"/>
<circle cx="94.4" cy="-5" r="0.9" fill="#fff"/><circle cx="95.6" cy="5" r="0.9" fill="#fff"/>
<circle cx="98.0" cy="-5" r="0.9" fill="#fff"/><circle cx="99.2" cy="5" r="0.9" fill="#fff"/>
<circle cx="101.6" cy="-5" r="0.9" fill="#fff"/><circle cx="102.8" cy="5" r="0.9" fill="#fff"/>
<circle cx="105.2" cy="-5" r="0.9" fill="#fff"/><circle cx="106.4" cy="5" r="0.9" fill="#fff"/>
<path d="M109.1,-3.2 L117.1,-6 L117.1,6 L109.1,3.2 Z" fill="#fff" stroke="#000" stroke-width="1.4"/>
</g>
<line x1="206.7" y1="1209.4" x2="218.3" y2="1213.5" stroke="#000" stroke-width="4.0" />
<line x1="210.0" y1="1210.1" x2="210.5" y2="1211.7" stroke="#bbb" stroke-width="0.5" />
<line x1="212.6" y1="1210.1" x2="213.1" y2="1211.7" stroke="#bbb" stroke-width="0.5" />
<line x1="215.1" y1="1210.1" x2="215.6" y2="1211.7" stroke="#bbb" stroke-width="0.5" />
<line x1="218.3" y1="1213.5" x2="229.2" y2="1216.8" stroke="#000" stroke-width="2.2" />
<line x1="220.5" y1="1214.2" x2="228.5" y2="1216.6" stroke="#fff" stroke-width="0.5" />
<path d="M229.7,1211.7 L243.6,1207.2 L257.9,1208.5 L267.9,1212.3 L262.1,1216.8 L262.4,1240.9 L252.6,1237.9 L251.3,1234.7 L238.5,1231.5 L230.8,1221.9 Z" fill="#fff" stroke="#000" stroke-width="1.8" stroke-linejoin="round" stroke-linecap="round" />
<path d="M237.4,1209.2 C236.8,1210.3 234.1,1213.3 233.6,1215.5 C233.1,1217.7 233.7,1220.0 234.4,1222.6 C235.0,1225.2 236.9,1229.7 237.4,1231.2" fill="none" stroke="#000" stroke-width="1.8" stroke-linejoin="round" stroke-linecap="round" />
<path d="M233.1,1210.6 C232.8,1211.6 231.5,1214.3 231.2,1216.2 C230.8,1218.0 230.8,1221.0 230.8,1221.9" fill="none" stroke="#000" stroke-width="1.2" stroke-linejoin="round" stroke-linecap="round" />
<path d="M257.9,1208.5 C256.7,1209.4 251.8,1211.9 250.3,1214.2 C248.7,1216.6 248.1,1218.8 248.5,1222.6 C248.8,1226.4 251.7,1234.6 252.3,1237.1" fill="none" stroke="#000" stroke-width="1.8" stroke-linejoin="round" stroke-linecap="round" />
<path d="M262.1,1216.8 L267.9,1212.9 L276.9,1209.7 L328.2,1222.6 L327.2,1225.8 L313.1,1229.0 L308.5,1236.7 L309.2,1248.8 L295.5,1250.4 L262.4,1240.9 Z" fill="#fff" stroke="#000" stroke-width="1.8" stroke-linejoin="round" stroke-linecap="round" />
<path d="M269.9,1214.2 L320.5,1226.7" fill="none" stroke="#000" stroke-width="1.8" stroke-linejoin="round" stroke-linecap="round" />
<path d="M267.9,1212.9 L271.8,1211.4 L323.1,1224.2" fill="none" stroke="#000" stroke-width="1.3" stroke-linejoin="round" stroke-linecap="round" />
<path d="M262.8,1225.1 L309.0,1236.3" fill="none" stroke="#000" stroke-width="1.8" stroke-linejoin="round" stroke-linecap="round" />
<path d="M264.1,1239.2 L295.1,1247.9" fill="none" stroke="#000" stroke-width="1.3" stroke-linejoin="round" stroke-linecap="round" />
<path d="M313.1,1229.0 L327.2,1225.8 L328.5,1237.6 L313.7,1243.2 L310.5,1233.5" fill="none" stroke="#000" stroke-width="1.8" stroke-linejoin="round" stroke-linecap="round" />
<path d="M313.7,1243.2 L315.6,1251.7 L331.0,1246.5 L328.5,1237.6" fill="none" stroke="#000" stroke-width="1.8" stroke-linejoin="round" stroke-linecap="round" />
<path d="M309.2,1248.8 L312.8,1261.7 L316.9,1259.7 L313.7,1243.2" fill="none" stroke="#000" stroke-width="1.4" stroke-linejoin="round" stroke-linecap="round" />
<path d="M295.5,1250.4 L297.1,1270.9 L300.3,1272.2" fill="none" stroke="#000" stroke-width="1.8" stroke-linejoin="round" stroke-linecap="round" />
<path d="M298.7,1249.5 L299.5,1261.7" fill="none" stroke="#000" stroke-width="1.3" stroke-linejoin="round" stroke-linecap="round" />
<path d="M299.5,1261.7 L302.6,1259.1 L312.8,1261.9" fill="none" stroke="#000" stroke-width="1.8" stroke-linejoin="round" stroke-linecap="round" />
<path d="M302.6,1259.1 L301.3,1266.8 L323.7,1270.6 L331.0,1264.9" fill="none" stroke="#000" stroke-width="1.8" stroke-linejoin="round" stroke-linecap="round" />
<path d="M331.0,1246.5 C330.7,1247.6 328.8,1250.6 328.8,1252.7 C328.8,1254.8 330.5,1256.8 331.0,1259.1 C331.6,1261.5 331.9,1265.5 332.1,1266.8" fill="none" stroke="#000" stroke-width="1.8" stroke-linejoin="round" stroke-linecap="round" />
<path d="M330.3,1250.1 C330.0,1251.0 328.9,1253.5 329.0,1255.3 C329.0,1257.0 330.3,1259.5 330.5,1260.4" fill="none" stroke="#000" stroke-width="1.0" stroke-linejoin="round" stroke-linecap="round" />
<path d="M300.4,1272.1 L308.9,1306.8 L313.2,1311.3" fill="none" stroke="#000" stroke-width="1.8" stroke-linejoin="round" stroke-linecap="round" />
<path d="M302.1,1268.6 L313.2,1311.3" fill="none" stroke="#000" stroke-width="1.3" stroke-linejoin="round" stroke-linecap="round" />
<path d="M318.1,1270.7 L323.8,1316.7" fill="none" stroke="#000" stroke-width="1.8" stroke-linejoin="round" stroke-linecap="round" />
<path d="M324.5,1271.4 L335.8,1319.8" fill="none" stroke="#000" stroke-width="1.8" stroke-linejoin="round" stroke-linecap="round" />
<path d="M331.8,1266.4 L341.5,1316.9" fill="none" stroke="#000" stroke-width="1.8" stroke-linejoin="round" stroke-linecap="round" />
<path d="M294.1,1318.1 L296.2,1315.2 L308.9,1311.0 L313.2,1311.3" fill="none" stroke="#000" stroke-width="1.8" stroke-linejoin="round" stroke-linecap="round" />
<path d="M294.1,1318.1 L294.1,1354.9 L324.5,1362.6 L345.7,1355.1 L347.1,1316.7 L341.5,1316.9" fill="none" stroke="#000" stroke-width="1.8" stroke-linejoin="round" stroke-linecap="round" />
<path d="M324.5,1362.6 L324.5,1325.9 L294.1,1318.1" fill="none" stroke="#000" stroke-width="1.8" stroke-linejoin="round" stroke-linecap="round" />
<path d="M324.5,1325.9 L328.0,1325.1 L335.8,1319.8 L341.5,1320.9 L347.1,1316.7" fill="none" stroke="#000" stroke-width="1.8" stroke-linejoin="round" stroke-linecap="round" />
<path d="M296.2,1315.2 L324.5,1322.3 L328.0,1325.1" fill="none" stroke="#000" stroke-width="1.2" stroke-linejoin="round" stroke-linecap="round" />
<path d="M308.9,1306.8 L299.0,1310.3" fill="none" stroke="#000" stroke-width="1.0" stroke-linejoin="round" stroke-linecap="round" />
<path d="M295.1,1352.3 L324.5,1359.8" fill="none" stroke="#000" stroke-width="1.2" stroke-linejoin="round" stroke-linecap="round" />
</svg>
</body></html>
